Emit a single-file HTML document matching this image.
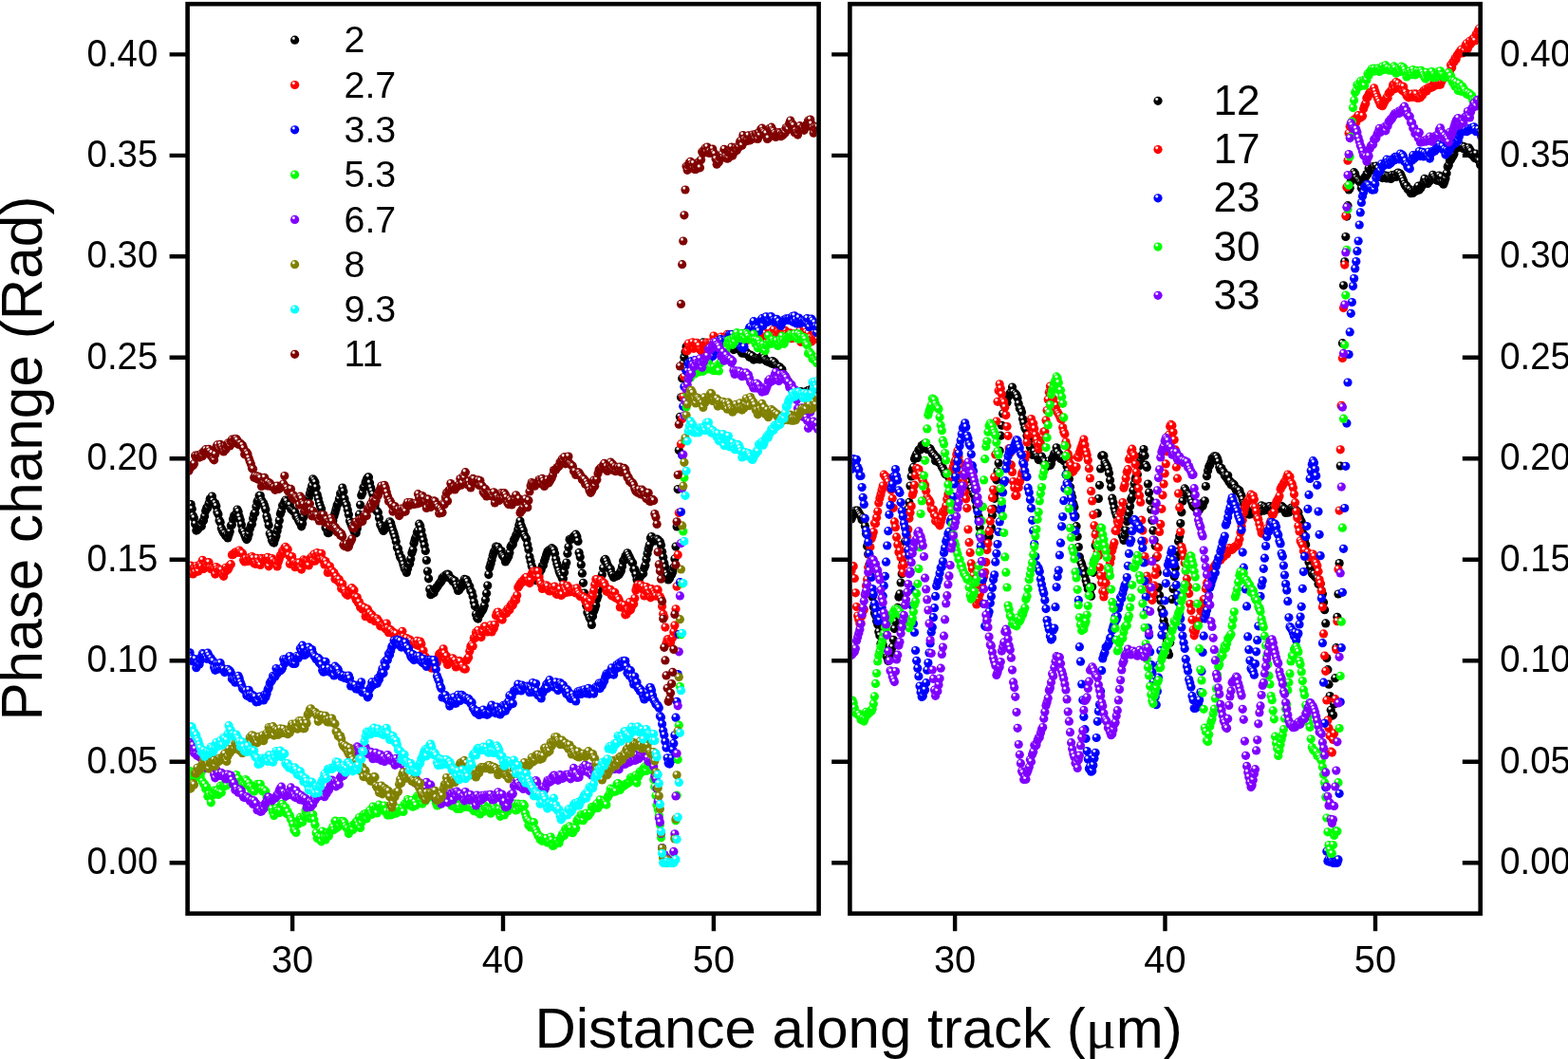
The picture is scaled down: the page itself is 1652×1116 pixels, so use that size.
<!DOCTYPE html>
<html><head><meta charset="utf-8"><title>Phase change vs distance</title>
<style>html,body{margin:0;padding:0;background:#fff;width:1652px;height:1116px;overflow:hidden;}svg{display:block;}text{font-family:"Liberation Sans",Arial,sans-serif;fill:#000;}</style></head><body>
<svg width="1652" height="1116" viewBox="0 0 1652 1116">
<defs>
<radialGradient id="gk" cx="0.36" cy="0.3" r="0.62"><stop offset="0" stop-color="#fff"/><stop offset="0.13" stop-color="#fff"/><stop offset="0.36" stop-color="#000000"/><stop offset="1" stop-color="#000000"/></radialGradient>
<marker id="mk" markerUnits="userSpaceOnUse" markerWidth="12" markerHeight="12" refX="0" refY="0" overflow="visible" orient="0"><circle r="4.6" fill="url(#gk)"/></marker>
<radialGradient id="gr" cx="0.36" cy="0.3" r="0.62"><stop offset="0" stop-color="#fff"/><stop offset="0.13" stop-color="#fff"/><stop offset="0.36" stop-color="#ff0000"/><stop offset="1" stop-color="#ff0000"/></radialGradient>
<marker id="mr" markerUnits="userSpaceOnUse" markerWidth="12" markerHeight="12" refX="0" refY="0" overflow="visible" orient="0"><circle r="4.6" fill="url(#gr)"/></marker>
<radialGradient id="gb" cx="0.36" cy="0.3" r="0.62"><stop offset="0" stop-color="#fff"/><stop offset="0.13" stop-color="#fff"/><stop offset="0.36" stop-color="#0000ff"/><stop offset="1" stop-color="#0000ff"/></radialGradient>
<marker id="mb" markerUnits="userSpaceOnUse" markerWidth="12" markerHeight="12" refX="0" refY="0" overflow="visible" orient="0"><circle r="4.6" fill="url(#gb)"/></marker>
<radialGradient id="gg" cx="0.36" cy="0.3" r="0.62"><stop offset="0" stop-color="#fff"/><stop offset="0.13" stop-color="#fff"/><stop offset="0.36" stop-color="#00ff00"/><stop offset="1" stop-color="#00ff00"/></radialGradient>
<marker id="mg" markerUnits="userSpaceOnUse" markerWidth="12" markerHeight="12" refX="0" refY="0" overflow="visible" orient="0"><circle r="4.6" fill="url(#gg)"/></marker>
<radialGradient id="gv" cx="0.36" cy="0.3" r="0.62"><stop offset="0" stop-color="#fff"/><stop offset="0.13" stop-color="#fff"/><stop offset="0.36" stop-color="#8000ff"/><stop offset="1" stop-color="#8000ff"/></radialGradient>
<marker id="mv" markerUnits="userSpaceOnUse" markerWidth="12" markerHeight="12" refX="0" refY="0" overflow="visible" orient="0"><circle r="4.6" fill="url(#gv)"/></marker>
<radialGradient id="go" cx="0.36" cy="0.3" r="0.62"><stop offset="0" stop-color="#fff"/><stop offset="0.13" stop-color="#fff"/><stop offset="0.36" stop-color="#808000"/><stop offset="1" stop-color="#808000"/></radialGradient>
<marker id="mo" markerUnits="userSpaceOnUse" markerWidth="12" markerHeight="12" refX="0" refY="0" overflow="visible" orient="0"><circle r="4.6" fill="url(#go)"/></marker>
<radialGradient id="gc" cx="0.36" cy="0.3" r="0.62"><stop offset="0" stop-color="#fff"/><stop offset="0.13" stop-color="#fff"/><stop offset="0.36" stop-color="#00ffff"/><stop offset="1" stop-color="#00ffff"/></radialGradient>
<marker id="mc" markerUnits="userSpaceOnUse" markerWidth="12" markerHeight="12" refX="0" refY="0" overflow="visible" orient="0"><circle r="4.6" fill="url(#gc)"/></marker>
<radialGradient id="gd" cx="0.36" cy="0.3" r="0.62"><stop offset="0" stop-color="#fff"/><stop offset="0.13" stop-color="#fff"/><stop offset="0.36" stop-color="#800000"/><stop offset="1" stop-color="#800000"/></radialGradient>
<marker id="md" markerUnits="userSpaceOnUse" markerWidth="12" markerHeight="12" refX="0" refY="0" overflow="visible" orient="0"><circle r="4.6" fill="url(#gd)"/></marker>
<clipPath id="cl"><rect x="200" y="6.5" width="660.5" height="954"/></clipPath>
<clipPath id="cr"><rect x="897.7" y="6.5" width="660" height="954"/></clipPath>
</defs>
<rect width="1652" height="1116" fill="#fff"/>
<g clip-path="url(#cl)" fill="none" stroke="none">
<path d="M199.0 538.9 200.1 534.5 201.2 531.5 202.3 536.4 203.4 543.6 204.5 545.9 205.6 552.2 206.8 559.1 207.9 558.4 209.0 556.9 210.1 555.5 211.2 554.2 212.3 554.4 213.4 549.8 214.5 548.4 215.6 544.0 216.7 538.3 217.8 535.0 218.9 535.0 220.1 530.6 221.2 525.8 222.3 525.3 223.4 523.0 224.5 528.0 225.6 530.4 226.7 530.5 227.8 533.4 228.9 539.8 230.0 542.1 231.1 548.6 232.2 550.6 233.3 556.7 234.5 559.5 235.6 561.6 236.7 562.3 237.8 564.8 238.9 563.8 240.0 567.0 241.1 563.4 242.2 560.3 243.3 554.0 244.4 553.1 245.5 547.0 246.6 543.4 247.8 543.6 248.9 541.4 250.0 537.0 251.1 539.2 252.2 544.5 253.3 548.1 254.4 552.9 255.5 558.9 256.6 560.5 257.7 563.4 258.8 566.5 259.9 568.6 261.0 566.8 262.2 562.7 263.3 557.3 264.4 553.7 265.5 552.3 266.6 546.2 267.7 541.8 268.8 540.5 269.9 534.1 271.0 528.7 272.1 527.0 273.2 522.3 274.3 522.3 275.5 526.9 276.6 529.0 277.7 530.6 278.8 533.5 279.9 536.9 281.0 544.1 282.1 547.9 283.2 553.6 284.3 562.3 285.4 564.9 286.5 569.2 287.6 571.3 288.7 572.1 289.9 568.0 291.0 564.8 292.1 559.6 293.2 554.8 294.3 548.5 295.4 541.6 296.5 538.5 297.6 532.8 298.7 532.9 299.8 528.8 300.9 527.1 302.0 528.4 303.2 531.9 304.3 532.8 305.4 532.3 306.5 536.3 307.6 537.3 308.7 538.3 309.8 539.3 310.9 539.9 312.0 544.3 313.1 544.5 314.2 547.6 315.3 549.7 316.4 551.5 317.6 554.8 318.7 551.7 319.8 545.0 320.9 539.4 322.0 535.5 323.1 533.1 324.2 528.4 325.3 524.6 326.4 520.1 327.5 516.1 328.6 512.1 329.7 504.8 330.9 506.4 332.0 508.5 333.1 513.7 334.2 521.2 335.3 525.6 336.4 529.9 337.5 533.4 338.6 536.3 339.7 541.8 340.8 546.7 341.9 548.7 343.0 555.9 344.1 557.4 345.3 561.6 346.4 561.6 347.5 558.1 348.6 556.4 349.7 552.2 350.8 548.7 351.9 543.9 353.0 540.5 354.1 536.4 355.2 532.3 356.3 530.6 357.4 525.7 358.6 520.1 359.7 520.7 360.8 514.1 361.9 518.0 363.0 525.4 364.1 530.2 365.2 532.6 366.3 537.2 367.4 542.3 368.5 548.9 369.6 551.4 370.7 554.6 371.8 556.8 373.0 559.8 374.1 558.7 375.2 561.8 376.3 556.9 377.4 551.7 378.5 542.2 379.6 532.1 380.7 521.9 381.8 519.6 382.9 513.7 384.0 513.4 385.1 508.6 386.3 505.5 387.4 503.2 388.5 502.9 389.6 509.0 390.7 513.9 391.8 517.7 392.9 521.0 394.0 527.8 395.1 532.0 396.2 537.8 397.3 538.8 398.4 540.1 399.5 546.0 400.7 552.7 401.8 554.7 402.9 557.6 404.0 559.4 405.1 557.8 406.2 556.4 407.3 553.9 408.4 553.2 409.5 552.0 410.6 549.8 411.7 551.3 412.8 555.3 414.0 559.3 415.1 562.5 416.2 566.3 417.3 570.7 418.4 577.0 419.5 578.3 420.6 583.2 421.7 587.2 422.8 587.8 423.9 590.9 425.0 594.9 426.1 598.8 427.2 600.4 428.4 603.5 429.5 599.5 430.6 594.7 431.7 594.1 432.8 588.9 433.9 582.8 435.0 579.5 436.1 572.5 437.2 568.6 438.3 565.7 439.4 560.9 440.5 559.2 441.7 552.2 442.8 554.2 443.9 559.1 445.0 564.9 446.1 569.7 447.2 574.7 448.3 580.5 449.4 590.5 450.5 602.0 451.6 609.8 452.7 620.9 453.8 626.7 454.9 625.7 456.1 623.6 457.2 624.8 458.3 620.6 459.4 620.3 460.5 618.5 461.6 617.0 462.7 615.3 463.8 613.8 464.9 612.8 466.0 608.9 467.1 609.6 468.2 607.2 469.4 607.9 470.5 605.5 471.6 605.1 472.7 605.8 473.8 608.9 474.9 609.4 476.0 610.3 477.1 612.7 478.2 611.5 479.3 612.3 480.4 616.5 481.5 619.0 482.6 622.5 483.8 621.8 484.9 616.2 486.0 618.7 487.1 615.9 488.2 613.2 489.3 610.4 490.4 611.2 491.5 611.0 492.6 613.2 493.7 617.0 494.8 618.0 495.9 622.4 497.1 624.1 498.2 628.4 499.3 634.4 500.4 638.8 501.5 647.4 502.6 651.0 503.7 652.1 504.8 647.2 505.9 647.3 507.0 644.2 508.1 643.6 509.2 641.4 510.3 638.3 511.5 632.0 512.6 625.3 513.7 617.0 514.8 605.6 515.9 597.9 517.0 594.2 518.1 590.1 519.2 585.5 520.3 581.7 521.4 579.9 522.5 576.0 523.6 576.4 524.8 576.7 525.9 579.7 527.0 580.7 528.1 580.6 529.2 585.0 530.3 586.4 531.4 588.0 532.5 592.0 533.6 590.2 534.7 588.3 535.8 586.3 536.9 582.4 538.0 576.4 539.2 574.3 540.3 573.7 541.4 569.1 542.5 567.2 543.6 564.6 544.7 562.2 545.8 557.9 546.9 553.3 548.0 549.0 549.1 553.7 550.2 556.8 551.3 559.3 552.5 564.1 553.6 566.3 554.7 567.9 555.8 574.1 556.9 579.0 558.0 586.7 559.1 591.4 560.2 596.5 561.3 599.0 562.4 602.5 563.5 604.6 564.6 611.7 565.7 610.2 566.9 607.0 568.0 604.7 569.1 601.2 570.2 600.4 571.3 596.6 572.4 595.7 573.5 591.2 574.6 588.0 575.7 584.4 576.8 581.6 577.9 580.2 579.0 579.9 580.2 580.1 581.3 577.7 582.4 578.6 583.5 579.8 584.6 583.2 585.7 589.6 586.8 593.9 587.9 597.4 589.0 601.7 590.1 604.4 591.2 606.4 592.3 609.6 593.4 609.7 594.6 603.2 595.7 596.8 596.8 593.0 597.9 583.3 599.0 576.6 600.1 568.6 601.2 568.1 602.3 568.2 603.4 567.4 604.5 565.3 605.6 564.6 606.7 563.2 607.9 565.8 609.0 570.4 610.1 582.4 611.2 586.9 612.3 595.1 613.4 604.2 614.5 614.3 615.6 625.1 616.7 628.3 617.8 638.3 618.9 645.4 620.0 647.4 621.1 651.1 622.3 653.1 623.4 658.5 624.5 649.6 625.6 644.3 626.7 641.4 627.8 637.9 628.9 631.4 630.0 628.0 631.1 621.0 632.2 614.8 633.3 611.7 634.4 605.4 635.6 598.8 636.7 590.4 637.8 589.4 638.9 591.8 640.0 594.9 641.1 597.6 642.2 599.6 643.3 599.7 644.4 603.9 645.5 606.1 646.6 608.6 647.7 607.7 648.8 606.7 650.0 607.0 651.1 606.1 652.2 605.6 653.3 603.4 654.4 601.5 655.5 597.1 656.6 591.1 657.7 590.5 658.8 586.6 659.9 585.0 661.0 582.8 662.1 585.0 663.3 587.5 664.4 589.7 665.5 592.0 666.6 593.3 667.7 600.1 668.8 600.1 669.9 605.6 671.0 610.7 672.1 613.1 673.2 610.5 674.3 608.1 675.4 606.3 676.5 603.3 677.7 604.5 678.8 598.6 679.9 595.7 681.0 589.6 682.1 583.5 683.2 578.5 684.3 574.3 685.4 567.1 686.5 565.5 687.6 568.5 688.7 568.8 689.8 570.1 691.0 568.7 692.1 568.2 693.2 568.8 694.3 570.6 695.4 570.9 696.5 574.6 697.6 581.6 698.7 587.2 699.8 593.2 700.9 597.8 702.0 604.2 703.1 606.9 704.2 610.9 705.4 609.8 706.5 607.0 707.6 605.6 708.7 602.8 709.8 597.9 710.9 588.9 712.0 576.1 713.1 555.0 714.2 515.6 715.3 474.6 716.4 439.3 717.5 418.8 718.7 398.7 719.8 383.2 720.9 376.6 722.0 370.9 723.1 365.3 724.2 365.2 725.3 365.3 726.4 365.5 727.5 365.9 728.6 364.7 729.7 362.7 730.8 365.0 731.9 363.0 733.1 362.9 734.2 363.0 735.3 362.0 736.4 363.2 737.5 364.1 738.6 365.2 739.7 364.4 740.8 360.9 741.9 363.8 743.0 364.0 744.1 364.8 745.2 364.1 746.4 366.0 747.5 364.7 748.6 364.4 749.7 363.7 750.8 360.8 751.9 362.9 753.0 362.9 754.1 362.4 755.2 364.3 756.3 364.0 757.4 362.1 758.5 361.4 759.6 360.6 760.8 361.3 761.9 361.1 763.0 362.9 764.1 360.9 765.2 362.9 766.3 361.3 767.4 362.5 768.5 363.8 769.6 364.1 770.7 365.1 771.8 366.3 772.9 368.6 774.1 365.6 775.2 367.6 776.3 364.9 777.4 366.4 778.5 367.7 779.6 367.8 780.7 370.4 781.8 372.2 782.9 370.6 784.0 372.1 785.1 372.1 786.2 370.9 787.3 373.4 788.5 373.4 789.6 376.2 790.7 374.0 791.8 377.1 792.9 375.4 794.0 379.1 795.1 378.2 796.2 378.1 797.3 378.1 798.4 377.8 799.5 378.3 800.6 378.8 801.8 376.5 802.9 375.5 804.0 374.2 805.1 377.3 806.2 379.4 807.3 380.0 808.4 380.9 809.5 381.3 810.6 381.5 811.7 382.1 812.8 382.9 813.9 380.6 815.0 383.7 816.2 382.2 817.3 384.8 818.4 385.4 819.5 386.7 820.6 386.6 821.7 387.1 822.8 389.2 823.9 389.3 825.0 395.8 826.1 394.9 827.2 397.0 828.3 399.6 829.5 401.7 830.6 401.9 831.7 405.2 832.8 407.4 833.9 407.8 835.0 411.7 836.1 411.8 837.2 413.8 838.3 414.0 839.4 414.2 840.5 414.3 841.6 413.0 842.7 414.4 843.9 412.7 845.0 413.6 846.1 414.3 847.2 413.9 848.3 413.1 849.4 414.6 850.5 412.1 851.6 411.7 852.7 411.1 853.8 413.0 854.9 411.6 856.0 409.2 857.2 412.2 858.3 412.9 859.4 411.2 860.5 407.1 861.6 407.1" marker-start="url(#mk)" marker-mid="url(#mk)" marker-end="url(#mk)"/>
<path d="M199.0 599.0 200.1 599.4 201.2 596.1 202.3 604.5 203.4 604.9 204.5 598.7 205.6 602.9 206.8 596.5 207.9 598.4 209.0 602.1 210.1 596.1 211.2 594.5 212.3 597.3 213.4 590.3 214.5 599.6 215.6 597.1 216.7 595.6 217.8 596.7 218.9 592.8 220.1 592.7 221.2 598.5 222.3 599.7 223.4 598.8 224.5 599.7 225.6 599.6 226.7 605.1 227.8 597.6 228.9 599.8 230.0 602.4 231.1 599.9 232.2 600.4 233.3 600.8 234.5 605.6 235.6 607.3 236.7 603.5 237.8 598.3 238.9 600.3 240.0 600.6 241.1 598.5 242.2 595.7 243.3 594.7 244.4 584.7 245.5 584.6 246.6 583.3 247.8 582.1 248.9 581.8 250.0 582.2 251.1 581.9 252.2 580.0 253.3 581.9 254.4 582.5 255.5 583.2 256.6 590.3 257.7 591.9 258.8 588.7 259.9 591.1 261.0 591.5 262.2 588.1 263.3 587.9 264.4 590.3 265.5 586.5 266.6 588.3 267.7 593.8 268.8 592.7 269.9 594.4 271.0 588.3 272.1 592.2 273.2 592.7 274.3 595.5 275.5 588.4 276.6 589.6 277.7 591.4 278.8 591.5 279.9 588.3 281.0 589.4 282.1 587.3 283.2 596.8 284.3 590.8 285.4 590.6 286.5 588.5 287.6 590.4 288.7 593.6 289.9 592.3 291.0 592.9 292.1 597.0 293.2 592.3 294.3 589.1 295.4 585.6 296.5 584.6 297.6 580.8 298.7 581.9 299.8 577.5 300.9 576.4 302.0 578.5 303.2 578.9 304.3 585.3 305.4 594.3 306.5 588.1 307.6 586.6 308.7 594.1 309.8 592.0 310.9 597.7 312.0 593.5 313.1 595.5 314.2 593.0 315.3 593.2 316.4 598.2 317.6 600.1 318.7 594.2 319.8 589.9 320.9 591.3 322.0 591.5 323.1 591.7 324.2 591.3 325.3 595.9 326.4 589.1 327.5 588.1 328.6 586.7 329.7 591.1 330.9 584.1 332.0 591.2 333.1 586.6 334.2 582.5 335.3 586.3 336.4 585.1 337.5 589.0 338.6 583.3 339.7 589.3 340.8 590.5 341.9 594.9 343.0 591.5 344.1 594.7 345.3 603.5 346.4 601.2 347.5 596.8 348.6 602.7 349.7 601.6 350.8 603.7 351.9 603.6 353.0 610.3 354.1 607.4 355.2 610.7 356.3 612.4 357.4 610.7 358.6 614.9 359.7 620.2 360.8 615.3 361.9 620.9 363.0 621.7 364.1 625.2 365.2 626.4 366.3 627.3 367.4 625.1 368.5 624.6 369.6 620.7 370.7 619.7 371.8 624.1 373.0 621.9 374.1 629.1 375.2 632.1 376.3 629.6 377.4 635.2 378.5 634.6 379.6 639.9 380.7 638.5 381.8 642.0 382.9 642.2 384.0 640.3 385.1 649.7 386.3 647.9 387.4 641.9 388.5 647.6 389.6 645.9 390.7 652.4 391.8 648.1 392.9 650.8 394.0 651.1 395.1 654.7 396.2 652.5 397.3 652.0 398.4 654.0 399.5 655.4 400.7 659.8 401.8 659.7 402.9 659.2 404.0 660.2 405.1 659.7 406.2 662.7 407.3 657.1 408.4 662.1 409.5 666.7 410.6 663.6 411.7 663.9 412.8 667.0 414.0 666.0 415.1 667.4 416.2 671.3 417.3 667.9 418.4 675.2 419.5 672.8 420.6 672.6 421.7 671.6 422.8 671.7 423.9 665.3 425.0 671.2 426.1 673.4 427.2 673.8 428.4 672.5 429.5 675.8 430.6 675.9 431.7 674.0 432.8 675.5 433.9 678.3 435.0 678.3 436.1 677.0 437.2 678.4 438.3 679.3 439.4 675.4 440.5 680.3 441.7 680.2 442.8 676.1 443.9 678.7 445.0 688.9 446.1 685.8 447.2 692.5 448.3 692.3 449.4 701.4 450.5 701.7 451.6 699.9 452.7 700.8 453.8 702.3 454.9 704.2 456.1 699.8 457.2 697.5 458.3 696.0 459.4 699.2 460.5 698.3 461.6 692.9 462.7 689.2 463.8 689.5 464.9 687.8 466.0 687.6 467.1 683.8 468.2 688.6 469.4 695.2 470.5 691.5 471.6 700.4 472.7 697.8 473.8 696.7 474.9 697.4 476.0 697.4 477.1 693.8 478.2 696.5 479.3 696.0 480.4 702.9 481.5 699.5 482.6 701.0 483.8 696.3 484.9 697.2 486.0 702.1 487.1 701.6 488.2 704.0 489.3 705.0 490.4 704.9 491.5 695.9 492.6 694.3 493.7 692.8 494.8 686.2 495.9 681.2 497.1 679.2 498.2 681.0 499.3 672.5 500.4 672.4 501.5 666.5 502.6 670.5 503.7 664.3 504.8 667.8 505.9 668.4 507.0 671.6 508.1 666.2 509.2 665.6 510.3 660.2 511.5 660.3 512.6 665.5 513.7 665.9 514.8 664.5 515.9 663.5 517.0 658.8 518.1 666.0 519.2 660.7 520.3 662.3 521.4 658.4 522.5 648.8 523.6 645.7 524.8 645.0 525.9 648.4 527.0 652.0 528.1 649.7 529.2 653.1 530.3 647.0 531.4 647.1 532.5 645.0 533.6 646.2 534.7 641.8 535.8 642.9 536.9 642.7 538.0 638.3 539.2 636.6 540.3 637.8 541.4 633.7 542.5 631.1 543.6 632.4 544.7 627.5 545.8 619.0 546.9 617.6 548.0 615.2 549.1 614.3 550.2 612.6 551.3 612.9 552.5 609.9 553.6 609.2 554.7 608.3 555.8 612.5 556.9 612.7 558.0 614.6 559.1 611.5 560.2 604.9 561.3 602.3 562.4 602.0 563.5 603.1 564.6 607.2 565.7 602.3 566.9 602.1 568.0 608.3 569.1 613.2 570.2 615.9 571.3 620.5 572.4 617.8 573.5 617.6 574.6 619.0 575.7 616.8 576.8 618.0 577.9 622.1 579.0 622.9 580.2 620.4 581.3 619.2 582.4 619.8 583.5 622.8 584.6 618.2 585.7 625.3 586.8 626.4 587.9 624.6 589.0 625.4 590.1 621.2 591.2 627.4 592.3 626.6 593.4 616.0 594.6 620.2 595.7 621.7 596.8 624.5 597.9 617.3 599.0 619.2 600.1 623.8 601.2 623.2 602.3 622.9 603.4 622.8 604.5 623.5 605.6 620.6 606.7 624.9 607.9 619.9 609.0 623.8 610.1 625.9 611.2 628.6 612.3 627.7 613.4 628.3 614.5 629.4 615.6 629.6 616.7 633.4 617.8 631.0 618.9 636.7 620.0 640.0 621.1 632.3 622.3 633.6 623.4 627.0 624.5 628.0 625.6 622.4 626.7 616.2 627.8 610.5 628.9 610.5 630.0 613.3 631.1 614.1 632.2 612.7 633.3 611.5 634.4 614.2 635.6 614.0 636.7 614.8 637.8 617.7 638.9 623.0 640.0 623.1 641.1 624.0 642.2 621.8 643.3 621.4 644.4 627.8 645.5 624.3 646.6 628.6 647.7 624.3 648.8 630.2 650.0 630.1 651.1 630.1 652.2 632.2 653.3 639.9 654.4 638.7 655.5 637.3 656.6 640.4 657.7 637.9 658.8 647.8 659.9 647.5 661.0 642.6 662.1 643.9 663.3 634.7 664.4 642.8 665.5 639.5 666.6 637.2 667.7 636.5 668.8 630.5 669.9 622.1 671.0 618.2 672.1 616.1 673.2 619.0 674.3 617.1 675.4 616.3 676.5 620.8 677.7 618.5 678.8 628.0 679.9 622.8 681.0 618.5 682.1 621.4 683.2 625.0 684.3 625.1 685.4 629.8 686.5 620.7 687.6 628.2 688.7 623.5 689.8 625.7 691.0 628.1 692.1 621.1 693.2 621.7 694.3 628.3 695.4 628.8 696.5 631.1 697.6 639.0 698.7 647.1 699.8 650.3 700.9 661.1 702.0 677.9 703.1 673.9 704.2 674.0 705.4 675.7 706.5 677.5 707.6 673.2 708.7 671.7 709.8 665.9 710.9 659.1 712.0 641.8 713.1 618.1 714.2 584.7 715.3 540.4 716.4 500.0 717.5 467.9 718.7 441.4 719.8 418.2 720.9 397.0 722.0 388.2 723.1 369.7 724.2 369.8 725.3 362.0 726.4 365.9 727.5 366.2 728.6 364.0 729.7 360.8 730.8 367.3 731.9 363.2 733.1 361.6 734.2 361.4 735.3 365.7 736.4 364.4 737.5 368.6 738.6 368.9 739.7 370.7 740.8 367.0 741.9 365.0 743.0 363.5 744.1 361.0 745.2 361.3 746.4 362.1 747.5 364.6 748.6 360.8 749.7 361.2 750.8 362.9 751.9 354.0 753.0 359.3 754.1 360.3 755.2 363.1 756.3 358.5 757.4 359.5 758.5 365.8 759.6 355.0 760.8 357.9 761.9 358.9 763.0 357.8 764.1 355.2 765.2 360.4 766.3 352.3 767.4 354.2 768.5 355.5 769.6 354.0 770.7 358.2 771.8 354.0 772.9 360.1 774.1 355.2 775.2 358.4 776.3 354.3 777.4 352.8 778.5 355.0 779.6 361.6 780.7 359.9 781.8 362.0 782.9 359.0 784.0 354.1 785.1 359.5 786.2 358.9 787.3 353.1 788.5 356.5 789.6 354.5 790.7 350.8 791.8 353.8 792.9 357.2 794.0 356.9 795.1 354.8 796.2 362.0 797.3 356.8 798.4 353.9 799.5 350.7 800.6 356.9 801.8 351.1 802.9 351.5 804.0 350.5 805.1 350.4 806.2 351.6 807.3 354.0 808.4 354.2 809.5 353.3 810.6 354.5 811.7 351.1 812.8 350.4 813.9 353.2 815.0 347.3 816.2 354.2 817.3 353.3 818.4 353.9 819.5 349.9 820.6 351.2 821.7 352.0 822.8 348.8 823.9 348.2 825.0 350.1 826.1 350.8 827.2 348.3 828.3 352.3 829.5 355.5 830.6 352.0 831.7 351.0 832.8 351.2 833.9 356.7 835.0 354.3 836.1 356.0 837.2 354.9 838.3 351.5 839.4 355.7 840.5 351.2 841.6 353.5 842.7 348.7 843.9 360.5 845.0 357.2 846.1 355.5 847.2 353.6 848.3 353.6 849.4 350.1 850.5 355.2 851.6 351.4 852.7 355.0 853.8 355.5 854.9 359.9 856.0 356.3 857.2 356.9 858.3 357.4 859.4 354.6 860.5 355.8 861.6 357.3" marker-start="url(#mr)" marker-mid="url(#mr)" marker-end="url(#mr)"/>
<path d="M199.0 692.7 200.1 687.8 201.2 692.4 202.3 694.2 203.4 696.9 204.5 695.8 205.6 694.5 206.8 703.7 207.9 699.3 209.0 700.3 210.1 700.0 211.2 695.7 212.3 692.1 213.4 688.7 214.5 689.4 215.6 692.5 216.7 692.2 217.8 694.3 218.9 688.2 220.1 691.0 221.2 694.2 222.3 693.8 223.4 696.2 224.5 696.8 225.6 703.2 226.7 706.3 227.8 699.4 228.9 705.3 230.0 699.3 231.1 704.2 232.2 698.7 233.3 705.2 234.5 704.3 235.6 705.2 236.7 708.6 237.8 707.3 238.9 706.3 240.0 705.3 241.1 708.1 242.2 706.9 243.3 708.9 244.4 715.6 245.5 715.9 246.6 716.4 247.8 719.2 248.9 714.7 250.0 718.1 251.1 712.3 252.2 715.0 253.3 719.1 254.4 721.7 255.5 725.4 256.6 726.3 257.7 727.3 258.8 728.0 259.9 732.8 261.0 733.6 262.2 727.3 263.3 732.1 264.4 735.7 265.5 732.1 266.6 733.9 267.7 733.5 268.8 734.5 269.9 739.8 271.0 738.9 272.1 739.5 273.2 734.3 274.3 734.2 275.5 736.9 276.6 736.1 277.7 737.9 278.8 732.2 279.9 734.7 281.0 731.3 282.1 726.8 283.2 724.7 284.3 720.0 285.4 717.9 286.5 716.9 287.6 712.3 288.7 713.4 289.9 712.9 291.0 704.6 292.1 709.6 293.2 706.1 294.3 706.5 295.4 706.7 296.5 705.8 297.6 703.8 298.7 694.8 299.8 698.9 300.9 695.1 302.0 696.5 303.2 696.8 304.3 692.8 305.4 691.6 306.5 695.6 307.6 698.3 308.7 699.4 309.8 694.7 310.9 699.5 312.0 694.1 313.1 691.3 314.2 693.8 315.3 691.2 316.4 683.2 317.6 686.5 318.7 680.2 319.8 683.6 320.9 690.5 322.0 689.5 323.1 688.4 324.2 687.3 325.3 682.2 326.4 685.7 327.5 687.3 328.6 684.6 329.7 688.7 330.9 690.9 332.0 692.2 333.1 694.8 334.2 694.5 335.3 693.4 336.4 698.6 337.5 695.8 338.6 700.7 339.7 706.5 340.8 708.2 341.9 704.5 343.0 697.3 344.1 707.4 345.3 705.7 346.4 704.2 347.5 707.6 348.6 708.7 349.7 706.0 350.8 706.4 351.9 712.0 353.0 702.2 354.1 707.3 355.2 704.4 356.3 705.8 357.4 709.6 358.6 711.0 359.7 713.2 360.8 712.1 361.9 712.1 363.0 714.6 364.1 713.3 365.2 712.4 366.3 715.6 367.4 712.1 368.5 715.1 369.6 722.9 370.7 721.0 371.8 721.9 373.0 723.4 374.1 722.1 375.2 726.0 376.3 725.2 377.4 726.2 378.5 724.7 379.6 723.1 380.7 718.8 381.8 729.7 382.9 729.2 384.0 729.2 385.1 729.2 386.3 732.1 387.4 734.8 388.5 732.8 389.6 726.0 390.7 723.9 391.8 718.9 392.9 722.3 394.0 720.7 395.1 720.8 396.2 718.4 397.3 720.2 398.4 714.5 399.5 715.9 400.7 712.0 401.8 708.9 402.9 704.8 404.0 709.4 405.1 697.7 406.2 702.4 407.3 695.4 408.4 695.4 409.5 689.1 410.6 690.1 411.7 685.7 412.8 681.5 414.0 680.5 415.1 675.1 416.2 677.1 417.3 675.8 418.4 674.1 419.5 674.6 420.6 679.6 421.7 675.5 422.8 682.1 423.9 681.6 425.0 679.8 426.1 681.4 427.2 677.2 428.4 681.4 429.5 684.9 430.6 683.5 431.7 688.1 432.8 691.4 433.9 693.3 435.0 689.5 436.1 695.6 437.2 693.3 438.3 694.0 439.4 691.8 440.5 695.1 441.7 691.7 442.8 695.2 443.9 696.6 445.0 698.3 446.1 694.3 447.2 699.8 448.3 698.6 449.4 702.5 450.5 697.1 451.6 695.7 452.7 696.4 453.8 695.3 454.9 696.6 456.1 696.0 457.2 695.7 458.3 699.5 459.4 705.3 460.5 712.5 461.6 715.4 462.7 718.0 463.8 723.1 464.9 725.6 466.0 735.0 467.1 734.4 468.2 734.8 469.4 732.7 470.5 736.7 471.6 736.5 472.7 739.3 473.8 744.1 474.9 739.5 476.0 735.8 477.1 739.8 478.2 734.9 479.3 741.1 480.4 741.2 481.5 738.1 482.6 732.3 483.8 735.2 484.9 738.5 486.0 732.3 487.1 732.8 488.2 734.3 489.3 735.5 490.4 735.3 491.5 737.2 492.6 737.9 493.7 736.4 494.8 738.4 495.9 741.2 497.1 740.2 498.2 745.9 499.3 747.3 500.4 749.7 501.5 751.2 502.6 749.3 503.7 749.7 504.8 753.5 505.9 751.9 507.0 752.2 508.1 750.2 509.2 748.1 510.3 752.4 511.5 751.5 512.6 753.1 513.7 753.1 514.8 751.8 515.9 750.9 517.0 745.8 518.1 743.1 519.2 747.2 520.3 746.0 521.4 746.4 522.5 751.7 523.6 745.0 524.8 750.2 525.9 749.5 527.0 752.9 528.1 748.3 529.2 750.5 530.3 743.4 531.4 744.3 532.5 749.2 533.6 741.9 534.7 745.6 535.8 739.1 536.9 732.9 538.0 742.3 539.2 733.9 540.3 741.5 541.4 728.6 542.5 727.6 543.6 728.1 544.7 725.8 545.8 721.1 546.9 726.3 548.0 727.4 549.1 728.0 550.2 722.0 551.3 723.8 552.5 724.2 553.6 725.6 554.7 723.8 555.8 723.2 556.9 724.1 558.0 729.7 559.1 723.8 560.2 726.4 561.3 719.5 562.4 729.4 563.5 725.8 564.6 720.6 565.7 728.4 566.9 732.7 568.0 733.1 569.1 732.7 570.2 735.9 571.3 730.5 572.4 729.1 573.5 726.3 574.6 725.6 575.7 721.2 576.8 725.6 577.9 719.1 579.0 716.7 580.2 719.8 581.3 722.5 582.4 722.1 583.5 724.1 584.6 719.5 585.7 718.8 586.8 723.9 587.9 727.6 589.0 722.1 590.1 719.5 591.2 721.3 592.3 723.0 593.4 722.0 594.6 727.0 595.7 725.9 596.8 731.3 597.9 726.9 599.0 729.4 600.1 734.0 601.2 736.2 602.3 736.2 603.4 732.0 604.5 734.9 605.6 736.8 606.7 739.0 607.9 731.7 609.0 728.8 610.1 731.4 611.2 728.1 612.3 731.4 613.4 727.9 614.5 729.3 615.6 726.8 616.7 728.9 617.8 730.8 618.9 727.1 620.0 725.3 621.1 731.3 622.3 728.6 623.4 729.9 624.5 727.8 625.6 731.1 626.7 725.0 627.8 724.2 628.9 724.9 630.0 724.9 631.1 720.1 632.2 725.6 633.3 719.9 634.4 722.3 635.6 719.2 636.7 717.5 637.8 713.2 638.9 710.2 640.0 711.6 641.1 709.9 642.2 709.9 643.3 707.3 644.4 703.9 645.5 708.7 646.6 711.1 647.7 706.3 648.8 702.9 650.0 700.6 651.1 703.5 652.2 698.9 653.3 703.1 654.4 698.1 655.5 696.8 656.6 699.6 657.7 696.3 658.8 696.5 659.9 702.3 661.0 709.2 662.1 706.0 663.3 712.2 664.4 706.7 665.5 713.2 666.6 716.6 667.7 721.2 668.8 713.0 669.9 718.9 671.0 719.1 672.1 725.0 673.2 724.9 674.3 728.4 675.4 727.2 676.5 729.5 677.7 733.8 678.8 736.9 679.9 732.6 681.0 731.3 682.1 729.3 683.2 734.3 684.3 724.9 685.4 724.5 686.5 727.5 687.6 733.0 688.7 737.2 689.8 739.0 691.0 741.9 692.1 742.7 693.2 743.7 694.3 745.9 695.4 754.7 696.5 756.1 697.6 762.9 698.7 770.0 699.8 774.7 700.9 781.6 702.0 788.1 703.1 798.8 704.2 804.3 705.4 805.1 706.5 802.2 707.6 799.2 708.7 790.3 709.8 783.4 710.9 774.8 712.0 756.2 713.1 739.3 714.2 710.5 715.3 668.6 716.4 613.7 717.5 539.5 718.7 479.8 719.8 428.3 720.9 407.6 722.0 388.5 723.1 391.1 724.2 391.2 725.3 382.9 726.4 384.4 727.5 381.1 728.6 380.9 729.7 385.4 730.8 385.0 731.9 379.5 733.1 383.3 734.2 387.9 735.3 385.5 736.4 385.0 737.5 384.2 738.6 382.3 739.7 385.0 740.8 381.1 741.9 380.2 743.0 383.8 744.1 384.4 745.2 382.0 746.4 380.2 747.5 374.9 748.6 372.6 749.7 374.6 750.8 375.4 751.9 369.3 753.0 369.8 754.1 369.5 755.2 364.3 756.3 369.6 757.4 364.6 758.5 358.0 759.6 357.7 760.8 359.0 761.9 363.0 763.0 362.0 764.1 358.0 765.2 358.7 766.3 359.7 767.4 358.6 768.5 352.5 769.6 353.1 770.7 353.8 771.8 352.3 772.9 359.2 774.1 355.6 775.2 356.3 776.3 356.7 777.4 360.0 778.5 361.0 779.6 362.3 780.7 365.6 781.8 361.2 782.9 367.3 784.0 365.5 785.1 353.7 786.2 350.5 787.3 350.1 788.5 349.9 789.6 345.3 790.7 344.6 791.8 352.9 792.9 345.9 794.0 338.7 795.1 345.5 796.2 345.6 797.3 346.8 798.4 346.3 799.5 348.9 800.6 339.0 801.8 337.6 802.9 335.7 804.0 343.3 805.1 337.5 806.2 334.4 807.3 333.8 808.4 339.5 809.5 337.4 810.6 338.1 811.7 333.8 812.8 333.9 813.9 338.0 815.0 337.3 816.2 339.5 817.3 337.1 818.4 336.4 819.5 338.9 820.6 339.0 821.7 342.2 822.8 343.5 823.9 339.9 825.0 338.8 826.1 337.1 827.2 337.2 828.3 335.9 829.5 336.4 830.6 337.4 831.7 335.6 832.8 337.8 833.9 335.8 835.0 333.4 836.1 339.4 837.2 332.9 838.3 337.1 839.4 340.9 840.5 338.7 841.6 335.0 842.7 340.8 843.9 340.5 845.0 338.1 846.1 339.7 847.2 338.1 848.3 338.4 849.4 340.2 850.5 335.6 851.6 342.0 852.7 344.7 853.8 338.5 854.9 336.1 856.0 338.0 857.2 343.2 858.3 340.1 859.4 344.1 860.5 350.6 861.6 344.3" marker-start="url(#mb)" marker-mid="url(#mb)" marker-end="url(#mb)"/>
<path d="M199.0 814.2 200.1 812.5 201.2 819.2 202.3 815.9 203.4 815.0 204.5 814.4 205.6 815.5 206.8 817.3 207.9 819.2 209.0 817.6 210.1 816.6 211.2 818.1 212.3 813.2 213.4 823.7 214.5 825.9 215.6 826.4 216.7 831.5 217.8 829.5 218.9 839.2 220.1 837.0 221.2 839.0 222.3 845.8 223.4 836.2 224.5 837.7 225.6 833.0 226.7 833.3 227.8 834.1 228.9 833.2 230.0 837.4 231.1 834.4 232.2 828.4 233.3 835.2 234.5 828.7 235.6 827.9 236.7 828.4 237.8 823.3 238.9 827.7 240.0 820.0 241.1 818.0 242.2 823.3 243.3 817.8 244.4 820.3 245.5 819.1 246.6 821.9 247.8 823.3 248.9 816.5 250.0 822.2 251.1 820.5 252.2 827.1 253.3 829.9 254.4 826.5 255.5 826.3 256.6 827.2 257.7 827.3 258.8 821.5 259.9 823.2 261.0 826.6 262.2 825.2 263.3 828.9 264.4 831.3 265.5 829.9 266.6 833.1 267.7 834.1 268.8 828.2 269.9 827.9 271.0 826.4 272.1 827.0 273.2 827.2 274.3 826.3 275.5 831.5 276.6 833.8 277.7 832.0 278.8 834.5 279.9 833.9 281.0 840.2 282.1 844.8 283.2 846.7 284.3 850.0 285.4 850.3 286.5 852.5 287.6 855.9 288.7 859.6 289.9 854.6 291.0 851.9 292.1 854.1 293.2 854.5 294.3 856.6 295.4 854.2 296.5 847.5 297.6 847.3 298.7 850.3 299.8 852.1 300.9 851.0 302.0 857.6 303.2 855.5 304.3 858.8 305.4 859.5 306.5 863.4 307.6 864.9 308.7 868.9 309.8 874.7 310.9 875.4 312.0 877.4 313.1 868.3 314.2 868.5 315.3 864.1 316.4 861.4 317.6 863.3 318.7 866.4 319.8 860.4 320.9 861.1 322.0 854.0 323.1 859.2 324.2 855.5 325.3 859.7 326.4 862.5 327.5 858.9 328.6 862.8 329.7 858.3 330.9 864.0 332.0 869.2 333.1 877.8 334.2 883.2 335.3 881.5 336.4 884.4 337.5 882.3 338.6 886.8 339.7 876.0 340.8 882.6 341.9 883.7 343.0 884.9 344.1 882.2 345.3 877.8 346.4 880.9 347.5 876.4 348.6 875.7 349.7 873.8 350.8 871.6 351.9 874.5 353.0 865.2 354.1 865.4 355.2 872.3 356.3 870.8 357.4 870.3 358.6 865.6 359.7 866.8 360.8 865.4 361.9 865.8 363.0 867.3 364.1 870.7 365.2 872.7 366.3 873.2 367.4 878.6 368.5 875.0 369.6 872.5 370.7 870.7 371.8 874.4 373.0 868.8 374.1 868.5 375.2 865.9 376.3 866.1 377.4 869.7 378.5 861.5 379.6 872.4 380.7 867.1 381.8 861.6 382.9 858.4 384.0 860.2 385.1 857.7 386.3 862.8 387.4 858.0 388.5 855.7 389.6 854.1 390.7 857.0 391.8 858.3 392.9 850.2 394.0 854.9 395.1 853.3 396.2 851.3 397.3 856.9 398.4 849.7 399.5 848.1 400.7 852.9 401.8 851.4 402.9 850.8 404.0 850.9 405.1 849.0 406.2 855.8 407.3 854.9 408.4 859.1 409.5 857.8 410.6 854.5 411.7 858.8 412.8 858.4 414.0 857.5 415.1 853.6 416.2 853.1 417.3 857.2 418.4 853.4 419.5 851.9 420.6 854.5 421.7 855.1 422.8 853.8 423.9 851.6 425.0 855.4 426.1 847.4 427.2 848.2 428.4 847.5 429.5 842.5 430.6 844.5 431.7 848.8 432.8 846.2 433.9 843.3 435.0 850.2 436.1 846.3 437.2 845.5 438.3 848.8 439.4 838.9 440.5 840.0 441.7 838.0 442.8 843.4 443.9 838.3 445.0 847.1 446.1 842.6 447.2 842.3 448.3 844.0 449.4 840.7 450.5 838.8 451.6 839.4 452.7 840.2 453.8 836.5 454.9 838.8 456.1 837.6 457.2 839.8 458.3 841.0 459.4 846.2 460.5 849.0 461.6 848.6 462.7 843.3 463.8 840.9 464.9 844.6 466.0 845.0 467.1 844.4 468.2 841.0 469.4 843.3 470.5 841.4 471.6 844.9 472.7 845.4 473.8 844.5 474.9 843.3 476.0 849.3 477.1 845.6 478.2 847.9 479.3 848.4 480.4 850.5 481.5 852.5 482.6 849.1 483.8 849.2 484.9 852.5 486.0 842.7 487.1 850.4 488.2 848.3 489.3 850.5 490.4 849.3 491.5 848.8 492.6 847.6 493.7 850.7 494.8 850.2 495.9 851.0 497.1 851.7 498.2 850.4 499.3 854.7 500.4 852.5 501.5 854.8 502.6 854.0 503.7 855.9 504.8 852.7 505.9 858.0 507.0 854.1 508.1 852.8 509.2 855.4 510.3 848.9 511.5 852.2 512.6 852.4 513.7 852.4 514.8 853.4 515.9 853.6 517.0 857.2 518.1 853.5 519.2 847.4 520.3 849.9 521.4 852.7 522.5 854.2 523.6 854.9 524.8 854.4 525.9 852.9 527.0 860.3 528.1 855.3 529.2 853.6 530.3 848.8 531.4 858.9 532.5 853.3 533.6 848.3 534.7 855.1 535.8 853.8 536.9 846.4 538.0 851.4 539.2 848.5 540.3 849.9 541.4 851.6 542.5 847.2 543.6 854.0 544.7 848.2 545.8 847.1 546.9 852.1 548.0 847.8 549.1 848.9 550.2 851.8 551.3 847.4 552.5 849.0 553.6 857.3 554.7 861.3 555.8 863.8 556.9 869.7 558.0 865.7 559.1 871.9 560.2 867.4 561.3 871.0 562.4 866.7 563.5 873.4 564.6 875.0 565.7 877.7 566.9 880.8 568.0 881.0 569.1 884.7 570.2 882.4 571.3 886.3 572.4 884.6 573.5 883.9 574.6 884.6 575.7 883.5 576.8 887.9 577.9 887.7 579.0 887.5 580.2 882.0 581.3 885.5 582.4 891.4 583.5 891.0 584.6 887.1 585.7 886.9 586.8 886.8 587.9 888.4 589.0 888.5 590.1 884.2 591.2 882.5 592.3 879.5 593.4 878.2 594.6 880.5 595.7 873.7 596.8 877.0 597.9 872.6 599.0 872.9 600.1 870.9 601.2 872.8 602.3 877.4 603.4 877.7 604.5 875.4 605.6 872.1 606.7 872.9 607.9 865.6 609.0 863.2 610.1 863.3 611.2 863.9 612.3 858.6 613.4 859.8 614.5 864.7 615.6 858.8 616.7 857.8 617.8 857.1 618.9 860.3 620.0 859.6 621.1 857.5 622.3 856.3 623.4 850.5 624.5 851.1 625.6 852.3 626.7 850.0 627.8 848.8 628.9 846.9 630.0 851.5 631.1 849.1 632.2 842.8 633.3 847.6 634.4 846.8 635.6 845.3 636.7 843.9 637.8 844.9 638.9 848.1 640.0 840.4 641.1 838.8 642.2 836.5 643.3 831.2 644.4 835.0 645.5 832.1 646.6 834.1 647.7 832.9 648.8 834.1 650.0 826.6 651.1 825.5 652.2 828.5 653.3 832.5 654.4 828.4 655.5 828.9 656.6 828.3 657.7 828.1 658.8 826.4 659.9 826.3 661.0 825.7 662.1 824.5 663.3 824.2 664.4 819.8 665.5 819.2 666.6 820.5 667.7 819.8 668.8 820.2 669.9 817.1 671.0 825.1 672.1 819.0 673.2 817.1 674.3 813.0 675.4 813.7 676.5 813.5 677.7 810.2 678.8 809.5 679.9 807.7 681.0 812.4 682.1 806.9 683.2 803.3 684.3 803.5 685.4 804.9 686.5 802.7 687.6 812.0 688.7 821.5 689.8 829.2 691.0 838.5 692.1 848.5 693.2 853.0 694.3 859.3 695.4 869.0 696.5 882.7 697.6 893.6 698.7 904.4 699.8 909.3 700.9 909.3 702.0 909.3 703.1 909.3 704.2 909.3 705.4 909.3 706.5 909.3 707.6 909.3 708.7 907.8 709.8 898.0 710.9 883.0 712.0 864.7 713.1 838.2 714.2 800.4 715.3 764.2 716.4 723.6 717.5 668.7 718.7 615.0 719.8 560.0 720.9 503.4 722.0 464.1 723.1 428.9 724.2 415.2 725.3 399.3 726.4 398.3 727.5 397.9 728.6 393.1 729.7 393.5 730.8 389.2 731.9 393.9 733.1 387.9 734.2 389.9 735.3 390.0 736.4 391.9 737.5 388.9 738.6 387.8 739.7 390.2 740.8 391.3 741.9 387.9 743.0 388.7 744.1 383.4 745.2 388.9 746.4 382.9 747.5 387.1 748.6 387.4 749.7 388.4 750.8 390.3 751.9 387.2 753.0 390.7 754.1 388.9 755.2 388.5 756.3 385.0 757.4 390.9 758.5 383.0 759.6 381.5 760.8 373.9 761.9 377.7 763.0 371.7 764.1 370.1 765.2 367.8 766.3 362.2 767.4 358.5 768.5 362.5 769.6 357.9 770.7 358.8 771.8 363.3 772.9 356.1 774.1 360.3 775.2 354.8 776.3 350.7 777.4 354.7 778.5 355.8 779.6 354.8 780.7 351.8 781.8 351.4 782.9 356.0 784.0 357.6 785.1 356.4 786.2 351.0 787.3 352.4 788.5 355.0 789.6 357.8 790.7 356.4 791.8 356.7 792.9 356.8 794.0 352.2 795.1 357.9 796.2 362.3 797.3 358.1 798.4 366.7 799.5 358.9 800.6 362.6 801.8 364.5 802.9 367.3 804.0 363.1 805.1 366.1 806.2 369.7 807.3 364.2 808.4 363.6 809.5 353.7 810.6 361.1 811.7 361.9 812.8 362.2 813.9 358.1 815.0 360.3 816.2 361.2 817.3 360.8 818.4 359.2 819.5 364.5 820.6 363.0 821.7 357.9 822.8 361.1 823.9 354.2 825.0 358.7 826.1 362.3 827.2 358.8 828.3 355.8 829.5 356.8 830.6 354.9 831.7 353.4 832.8 352.5 833.9 354.3 835.0 353.6 836.1 354.7 837.2 351.9 838.3 354.7 839.4 356.2 840.5 351.6 841.6 357.4 842.7 353.0 843.9 355.1 845.0 356.9 846.1 356.0 847.2 355.5 848.3 357.5 849.4 362.2 850.5 363.8 851.6 372.6 852.7 370.8 853.8 372.3 854.9 373.8 856.0 378.2 857.2 378.6 858.3 379.6 859.4 380.6 860.5 382.6 861.6 376.1" marker-start="url(#mg)" marker-mid="url(#mg)" marker-end="url(#mg)"/>
<path d="M199.0 783.6 200.1 782.1 201.2 787.5 202.3 788.1 203.4 785.4 204.5 793.6 205.6 789.4 206.8 795.3 207.9 796.6 209.0 795.8 210.1 796.0 211.2 798.6 212.3 795.9 213.4 801.1 214.5 804.4 215.6 805.1 216.7 802.1 217.8 809.6 218.9 806.5 220.1 801.6 221.2 804.6 222.3 801.8 223.4 805.0 224.5 808.9 225.6 816.0 226.7 819.8 227.8 810.9 228.9 815.3 230.0 815.2 231.1 817.4 232.2 816.7 233.3 814.4 234.5 817.4 235.6 816.2 236.7 817.1 237.8 821.0 238.9 819.3 240.0 816.1 241.1 819.0 242.2 817.0 243.3 817.4 244.4 822.0 245.5 826.4 246.6 825.2 247.8 832.5 248.9 830.3 250.0 833.4 251.1 835.2 252.2 833.3 253.3 832.2 254.4 833.8 255.5 837.8 256.6 840.0 257.7 840.4 258.8 839.6 259.9 839.6 261.0 841.0 262.2 841.4 263.3 843.9 264.4 844.3 265.5 843.3 266.6 847.4 267.7 843.9 268.8 846.9 269.9 846.9 271.0 853.7 272.1 853.3 273.2 853.0 274.3 855.3 275.5 855.0 276.6 849.4 277.7 852.6 278.8 847.7 279.9 846.5 281.0 844.3 282.1 840.2 283.2 840.0 284.3 842.9 285.4 842.7 286.5 843.7 287.6 842.1 288.7 841.4 289.9 841.0 291.0 839.8 292.1 837.2 293.2 837.9 294.3 833.0 295.4 830.8 296.5 829.2 297.6 834.8 298.7 834.9 299.8 837.7 300.9 839.3 302.0 836.2 303.2 837.3 304.3 835.2 305.4 834.4 306.5 829.9 307.6 838.0 308.7 837.0 309.8 837.3 310.9 840.2 312.0 833.2 313.1 840.9 314.2 836.4 315.3 840.7 316.4 843.0 317.6 838.4 318.7 842.0 319.8 840.3 320.9 844.3 322.0 841.5 323.1 851.0 324.2 848.2 325.3 846.9 326.4 844.9 327.5 850.3 328.6 845.4 329.7 847.8 330.9 840.9 332.0 843.0 333.1 835.1 334.2 839.9 335.3 835.5 336.4 834.5 337.5 838.5 338.6 837.4 339.7 834.2 340.8 834.4 341.9 839.7 343.0 833.5 344.1 836.2 345.3 833.6 346.4 832.8 347.5 829.5 348.6 826.5 349.7 822.1 350.8 825.5 351.9 826.2 353.0 823.7 354.1 828.8 355.2 823.0 356.3 823.3 357.4 826.7 358.6 819.1 359.7 818.2 360.8 814.2 361.9 817.4 363.0 814.8 364.1 814.4 365.2 807.5 366.3 810.3 367.4 806.0 368.5 804.2 369.6 798.3 370.7 792.3 371.8 795.7 373.0 792.8 374.1 789.1 375.2 791.9 376.3 786.9 377.4 787.5 378.5 789.6 379.6 790.9 380.7 792.2 381.8 793.8 382.9 791.9 384.0 789.5 385.1 787.6 386.3 790.3 387.4 792.2 388.5 794.9 389.6 792.7 390.7 792.4 391.8 793.1 392.9 799.7 394.0 796.6 395.1 794.5 396.2 793.4 397.3 799.4 398.4 796.1 399.5 796.7 400.7 795.1 401.8 801.4 402.9 799.0 404.0 798.0 405.1 802.6 406.2 799.8 407.3 800.8 408.4 795.6 409.5 798.7 410.6 798.2 411.7 801.5 412.8 801.0 414.0 801.8 415.1 800.5 416.2 806.3 417.3 799.3 418.4 803.6 419.5 802.2 420.6 804.5 421.7 799.1 422.8 804.7 423.9 801.6 425.0 806.5 426.1 807.8 427.2 817.2 428.4 810.6 429.5 814.3 430.6 812.8 431.7 816.1 432.8 818.7 433.9 817.7 435.0 816.2 436.1 817.1 437.2 819.2 438.3 821.0 439.4 826.3 440.5 825.0 441.7 825.4 442.8 825.2 443.9 827.7 445.0 829.5 446.1 826.3 447.2 830.7 448.3 830.4 449.4 824.3 450.5 835.5 451.6 834.1 452.7 828.7 453.8 827.2 454.9 833.3 456.1 833.6 457.2 838.7 458.3 837.9 459.4 842.3 460.5 837.6 461.6 840.9 462.7 843.3 463.8 843.3 464.9 847.2 466.0 844.9 467.1 843.5 468.2 842.4 469.4 836.6 470.5 839.5 471.6 845.6 472.7 838.4 473.8 836.0 474.9 837.0 476.0 836.9 477.1 843.2 478.2 835.1 479.3 835.7 480.4 839.3 481.5 834.2 482.6 835.9 483.8 836.8 484.9 836.9 486.0 839.6 487.1 840.0 488.2 838.9 489.3 843.8 490.4 834.5 491.5 842.4 492.6 838.8 493.7 842.9 494.8 841.1 495.9 837.5 497.1 843.0 498.2 843.2 499.3 840.9 500.4 840.2 501.5 848.9 502.6 838.0 503.7 844.0 504.8 840.4 505.9 840.0 507.0 843.3 508.1 838.4 509.2 841.0 510.3 838.0 511.5 839.8 512.6 838.1 513.7 838.8 514.8 837.8 515.9 838.6 517.0 837.3 518.1 841.8 519.2 843.1 520.3 839.6 521.4 841.8 522.5 837.7 523.6 838.4 524.8 834.8 525.9 837.5 527.0 840.8 528.1 840.4 529.2 837.2 530.3 845.2 531.4 844.6 532.5 850.7 533.6 850.5 534.7 849.4 535.8 843.6 536.9 842.0 538.0 837.4 539.2 837.2 540.3 836.5 541.4 828.0 542.5 828.0 543.6 827.7 544.7 822.4 545.8 825.5 546.9 828.4 548.0 828.8 549.1 829.6 550.2 830.0 551.3 831.4 552.5 827.8 553.6 830.0 554.7 830.1 555.8 826.9 556.9 829.9 558.0 833.6 559.1 833.2 560.2 834.3 561.3 831.7 562.4 829.8 563.5 830.5 564.6 822.6 565.7 824.6 566.9 831.2 568.0 833.8 569.1 834.9 570.2 834.7 571.3 833.3 572.4 829.5 573.5 832.8 574.6 830.6 575.7 826.1 576.8 822.5 577.9 823.3 579.0 824.3 580.2 821.1 581.3 822.8 582.4 818.2 583.5 817.1 584.6 817.4 585.7 819.3 586.8 820.4 587.9 822.3 589.0 819.4 590.1 816.4 591.2 817.5 592.3 820.4 593.4 819.1 594.6 819.3 595.7 816.7 596.8 816.6 597.9 816.4 599.0 816.3 600.1 818.1 601.2 820.8 602.3 815.0 603.4 814.4 604.5 809.4 605.6 816.2 606.7 814.9 607.9 819.4 609.0 817.4 610.1 819.1 611.2 811.4 612.3 813.4 613.4 812.3 614.5 808.6 615.6 812.6 616.7 806.1 617.8 810.6 618.9 809.7 620.0 814.2 621.1 808.1 622.3 815.5 623.4 817.0 624.5 808.8 625.6 812.7 626.7 808.2 627.8 813.3 628.9 814.3 630.0 808.6 631.1 816.7 632.2 813.7 633.3 815.1 634.4 816.9 635.6 816.2 636.7 812.6 637.8 813.2 638.9 813.3 640.0 809.7 641.1 813.4 642.2 812.0 643.3 809.7 644.4 810.5 645.5 808.1 646.6 805.2 647.7 810.6 648.8 808.8 650.0 806.9 651.1 804.9 652.2 810.8 653.3 804.4 654.4 801.1 655.5 804.7 656.6 805.4 657.7 800.4 658.8 805.3 659.9 797.9 661.0 801.1 662.1 803.3 663.3 803.1 664.4 800.7 665.5 801.2 666.6 796.8 667.7 799.4 668.8 801.5 669.9 795.7 671.0 800.2 672.1 799.8 673.2 799.4 674.3 797.1 675.4 796.9 676.5 796.4 677.7 792.3 678.8 792.8 679.9 794.3 681.0 792.9 682.1 798.7 683.2 802.6 684.3 802.9 685.4 800.7 686.5 803.0 687.6 801.0 688.7 807.9 689.8 818.1 691.0 821.1 692.1 830.9 693.2 844.6 694.3 861.9 695.4 866.6 696.5 878.6 697.6 893.5 698.7 901.8 699.8 900.6 700.9 903.0 702.0 903.5 703.1 909.3 704.2 905.8 705.4 907.0 706.5 908.5 707.6 909.3 708.7 909.3 709.8 897.4 710.9 878.8 712.0 839.0 713.1 794.0 714.2 743.8 715.3 686.8 716.4 627.9 717.5 572.6 718.7 514.8 719.8 479.1 720.9 437.9 722.0 422.9 723.1 410.4 724.2 405.5 725.3 399.2 726.4 395.2 727.5 391.3 728.6 393.8 729.7 384.5 730.8 386.3 731.9 386.1 733.1 379.7 734.2 382.6 735.3 383.9 736.4 381.2 737.5 377.9 738.6 383.9 739.7 387.3 740.8 382.2 741.9 380.3 743.0 376.5 744.1 376.0 745.2 375.1 746.4 367.9 747.5 366.9 748.6 368.5 749.7 367.1 750.8 364.8 751.9 361.1 753.0 362.2 754.1 360.4 755.2 363.2 756.3 363.5 757.4 364.8 758.5 367.6 759.6 375.6 760.8 374.3 761.9 371.0 763.0 380.2 764.1 377.0 765.2 374.4 766.3 379.3 767.4 377.3 768.5 378.6 769.6 378.5 770.7 382.3 771.8 380.4 772.9 390.6 774.1 394.5 775.2 390.9 776.3 391.7 777.4 392.5 778.5 391.0 779.6 391.8 780.7 395.3 781.8 396.7 782.9 393.0 784.0 395.3 785.1 394.3 786.2 392.9 787.3 396.7 788.5 395.1 789.6 398.8 790.7 402.8 791.8 403.8 792.9 406.1 794.0 408.9 795.1 404.6 796.2 409.0 797.3 404.0 798.4 407.1 799.5 405.9 800.6 409.9 801.8 410.7 802.9 413.1 804.0 411.0 805.1 410.6 806.2 412.2 807.3 409.4 808.4 406.5 809.5 401.5 810.6 399.9 811.7 402.5 812.8 401.8 813.9 401.1 815.0 398.9 816.2 395.1 817.3 392.2 818.4 399.2 819.5 399.4 820.6 401.6 821.7 394.5 822.8 399.3 823.9 398.7 825.0 394.4 826.1 395.5 827.2 396.4 828.3 398.1 829.5 401.7 830.6 402.6 831.7 407.9 832.8 406.6 833.9 405.3 835.0 409.1 836.1 410.6 837.2 410.5 838.3 420.1 839.4 421.5 840.5 430.2 841.6 430.8 842.7 436.3 843.9 435.3 845.0 429.8 846.1 439.3 847.2 436.5 848.3 440.0 849.4 440.1 850.5 443.3 851.6 451.3 852.7 444.4 853.8 434.6 854.9 448.4 856.0 445.5 857.2 444.2 858.3 448.1 859.4 448.2 860.5 446.2 861.6 452.3" marker-start="url(#mv)" marker-mid="url(#mv)" marker-end="url(#mv)"/>
<path d="M199.0 830.1 200.1 831.2 201.2 830.6 202.3 827.0 203.4 825.7 204.5 826.9 205.6 814.7 206.8 815.1 207.9 809.3 209.0 812.6 210.1 811.2 211.2 810.3 212.3 806.9 213.4 804.3 214.5 799.5 215.6 803.0 216.7 804.1 217.8 803.8 218.9 805.1 220.1 810.1 221.2 804.5 222.3 802.6 223.4 798.9 224.5 803.8 225.6 801.2 226.7 807.4 227.8 802.2 228.9 802.3 230.0 802.7 231.1 799.1 232.2 800.2 233.3 800.8 234.5 799.4 235.6 796.7 236.7 794.3 237.8 800.6 238.9 802.4 240.0 797.1 241.1 789.6 242.2 793.6 243.3 791.1 244.4 790.4 245.5 789.4 246.6 789.3 247.8 783.6 248.9 785.9 250.0 782.4 251.1 785.8 252.2 790.8 253.3 787.8 254.4 788.3 255.5 793.7 256.6 789.6 257.7 787.0 258.8 788.1 259.9 782.5 261.0 783.3 262.2 781.2 263.3 777.1 264.4 782.8 265.5 774.8 266.6 779.3 267.7 775.9 268.8 779.5 269.9 780.1 271.0 782.8 272.1 776.9 273.2 776.7 274.3 779.4 275.5 778.1 276.6 775.0 277.7 780.7 278.8 777.1 279.9 774.9 281.0 772.7 282.1 774.3 283.2 766.5 284.3 770.2 285.4 766.7 286.5 769.7 287.6 765.7 288.7 775.1 289.9 768.7 291.0 770.5 292.1 769.4 293.2 774.3 294.3 771.6 295.4 767.9 296.5 772.5 297.6 771.9 298.7 768.3 299.8 772.5 300.9 771.0 302.0 772.5 303.2 773.7 304.3 769.4 305.4 772.0 306.5 766.4 307.6 763.0 308.7 764.9 309.8 767.6 310.9 765.8 312.0 762.5 313.1 768.1 314.2 767.8 315.3 759.5 316.4 763.8 317.6 759.8 318.7 762.2 319.8 767.8 320.9 767.4 322.0 758.4 323.1 762.3 324.2 753.1 325.3 751.8 326.4 747.8 327.5 746.8 328.6 750.4 329.7 749.8 330.9 750.4 332.0 750.5 333.1 752.5 334.2 754.6 335.3 760.3 336.4 753.4 337.5 755.1 338.6 754.9 339.7 754.0 340.8 757.9 341.9 756.0 343.0 754.4 344.1 759.0 345.3 761.0 346.4 758.1 347.5 761.0 348.6 760.0 349.7 757.1 350.8 761.0 351.9 762.0 353.0 762.7 354.1 770.8 355.2 771.4 356.3 775.7 357.4 775.9 358.6 775.6 359.7 778.8 360.8 784.1 361.9 786.3 363.0 785.4 364.1 788.8 365.2 786.8 366.3 791.9 367.4 794.5 368.5 788.3 369.6 792.5 370.7 798.4 371.8 800.6 373.0 804.6 374.1 803.6 375.2 802.8 376.3 805.2 377.4 803.7 378.5 810.1 379.6 812.5 380.7 811.0 381.8 808.6 382.9 818.6 384.0 811.4 385.1 812.3 386.3 818.1 387.4 819.6 388.5 819.1 389.6 819.9 390.7 823.2 391.8 821.7 392.9 821.2 394.0 818.6 395.1 818.9 396.2 828.0 397.3 830.0 398.4 829.0 399.5 835.3 400.7 830.1 401.8 828.0 402.9 836.8 404.0 833.7 405.1 830.5 406.2 832.3 407.3 832.5 408.4 833.7 409.5 833.7 410.6 839.7 411.7 848.3 412.8 850.9 414.0 846.6 415.1 840.6 416.2 839.5 417.3 835.0 418.4 835.0 419.5 834.2 420.6 826.6 421.7 821.3 422.8 824.9 423.9 815.9 425.0 813.8 426.1 820.1 427.2 816.2 428.4 820.2 429.5 814.3 430.6 819.0 431.7 816.7 432.8 819.0 433.9 823.3 435.0 821.7 436.1 823.2 437.2 825.0 438.3 824.2 439.4 822.9 440.5 824.2 441.7 830.3 442.8 825.7 443.9 835.3 445.0 837.8 446.1 839.0 447.2 838.4 448.3 842.9 449.4 835.3 450.5 838.9 451.6 838.8 452.7 835.6 453.8 836.0 454.9 837.6 456.1 836.2 457.2 836.0 458.3 833.3 459.4 840.6 460.5 843.4 461.6 842.7 462.7 841.0 463.8 841.5 464.9 836.3 466.0 838.5 467.1 831.2 468.2 826.9 469.4 826.5 470.5 819.5 471.6 824.1 472.7 826.5 473.8 827.0 474.9 820.9 476.0 819.1 477.1 824.3 478.2 821.8 479.3 824.4 480.4 821.7 481.5 818.7 482.6 813.9 483.8 807.1 484.9 804.2 486.0 804.3 487.1 804.9 488.2 802.5 489.3 801.4 490.4 811.9 491.5 804.2 492.6 810.0 493.7 807.9 494.8 810.5 495.9 816.8 497.1 812.8 498.2 809.4 499.3 815.8 500.4 811.8 501.5 819.0 502.6 816.2 503.7 814.4 504.8 814.6 505.9 810.6 507.0 808.5 508.1 809.6 509.2 808.5 510.3 808.6 511.5 809.7 512.6 808.5 513.7 807.9 514.8 806.6 515.9 806.5 517.0 810.9 518.1 808.1 519.2 810.4 520.3 808.3 521.4 810.5 522.5 809.7 523.6 812.4 524.8 816.7 525.9 813.0 527.0 812.4 528.1 810.3 529.2 810.7 530.3 811.7 531.4 810.8 532.5 816.7 533.6 817.0 534.7 818.1 535.8 820.8 536.9 815.7 538.0 815.6 539.2 815.2 540.3 815.8 541.4 809.6 542.5 808.1 543.6 813.1 544.7 813.8 545.8 815.3 546.9 815.5 548.0 810.7 549.1 811.7 550.2 813.2 551.3 813.0 552.5 803.6 553.6 810.1 554.7 808.1 555.8 807.2 556.9 806.7 558.0 805.5 559.1 803.0 560.2 798.4 561.3 802.9 562.4 799.9 563.5 801.5 564.6 796.2 565.7 795.6 566.9 795.2 568.0 798.4 569.1 800.3 570.2 796.4 571.3 799.3 572.4 796.7 573.5 788.4 574.6 788.2 575.7 791.5 576.8 793.1 577.9 787.7 579.0 791.4 580.2 782.6 581.3 786.1 582.4 781.6 583.5 781.9 584.6 776.8 585.7 781.7 586.8 776.9 587.9 780.1 589.0 781.7 590.1 784.6 591.2 781.9 592.3 780.2 593.4 784.7 594.6 783.5 595.7 783.1 596.8 786.0 597.9 785.6 599.0 789.3 600.1 785.1 601.2 790.3 602.3 795.0 603.4 789.3 604.5 792.3 605.6 793.9 606.7 795.9 607.9 796.9 609.0 792.1 610.1 798.0 611.2 796.0 612.3 796.1 613.4 795.9 614.5 794.3 615.6 796.7 616.7 797.6 617.8 796.0 618.9 793.2 620.0 791.7 621.1 795.7 622.3 795.4 623.4 795.1 624.5 794.5 625.6 798.1 626.7 799.4 627.8 805.1 628.9 810.6 630.0 805.0 631.1 812.7 632.2 811.9 633.3 818.5 634.4 821.9 635.6 811.7 636.7 810.8 637.8 808.6 638.9 816.9 640.0 816.4 641.1 812.3 642.2 811.8 643.3 810.4 644.4 808.9 645.5 801.6 646.6 805.9 647.7 802.9 648.8 807.0 650.0 802.4 651.1 799.4 652.2 803.3 653.3 797.4 654.4 798.1 655.5 800.8 656.6 797.4 657.7 794.5 658.8 796.2 659.9 790.2 661.0 789.2 662.1 793.5 663.3 785.5 664.4 793.7 665.5 789.5 666.6 786.3 667.7 782.6 668.8 784.4 669.9 786.5 671.0 784.6 672.1 785.7 673.2 784.5 674.3 781.2 675.4 785.3 676.5 788.9 677.7 786.4 678.8 782.9 679.9 783.6 681.0 781.5 682.1 785.1 683.2 779.1 684.3 791.7 685.4 794.0 686.5 795.1 687.6 795.6 688.7 792.6 689.8 802.0 691.0 813.8 692.1 815.5 693.2 830.4 694.3 838.8 695.4 852.5 696.5 877.7 697.6 893.9 698.7 903.5 699.8 909.3 700.9 909.3 702.0 909.3 703.1 905.9 704.2 909.3 705.4 909.3 706.5 909.3 707.6 909.3 708.7 909.3 709.8 908.4 710.9 884.0 712.0 863.1 713.1 816.8 714.2 770.2 715.3 713.6 716.4 652.7 717.5 600.0 718.7 553.9 719.8 512.2 720.9 487.3 722.0 461.5 723.1 437.8 724.2 426.1 725.3 417.6 726.4 415.5 727.5 411.2 728.6 411.7 729.7 414.2 730.8 420.7 731.9 421.2 733.1 425.0 734.2 419.2 735.3 419.3 736.4 421.0 737.5 422.4 738.6 424.8 739.7 424.6 740.8 429.4 741.9 418.9 743.0 424.3 744.1 422.1 745.2 421.3 746.4 419.3 747.5 418.3 748.6 414.4 749.7 414.9 750.8 422.4 751.9 422.5 753.0 423.1 754.1 422.0 755.2 420.2 756.3 428.1 757.4 422.4 758.5 425.7 759.6 425.4 760.8 423.7 761.9 423.3 763.0 428.0 764.1 424.4 765.2 427.6 766.3 431.2 767.4 424.2 768.5 426.1 769.6 429.8 770.7 431.8 771.8 434.2 772.9 432.3 774.1 430.5 775.2 426.3 776.3 431.0 777.4 429.3 778.5 429.8 779.6 424.8 780.7 429.7 781.8 432.1 782.9 429.3 784.0 430.0 785.1 426.0 786.2 420.0 787.3 427.2 788.5 421.8 789.6 427.6 790.7 418.6 791.8 421.0 792.9 426.6 794.0 423.9 795.1 426.8 796.2 431.9 797.3 432.3 798.4 436.8 799.5 433.6 800.6 430.9 801.8 433.2 802.9 425.4 804.0 431.4 805.1 429.5 806.2 436.3 807.3 435.8 808.4 432.1 809.5 439.7 810.6 436.6 811.7 433.2 812.8 431.7 813.9 433.3 815.0 433.4 816.2 435.8 817.3 435.6 818.4 438.1 819.5 436.9 820.6 444.3 821.7 443.7 822.8 444.8 823.9 439.8 825.0 441.8 826.1 442.6 827.2 440.5 828.3 441.7 829.5 441.6 830.6 442.7 831.7 440.7 832.8 437.1 833.9 443.2 835.0 441.0 836.1 443.2 837.2 441.1 838.3 442.7 839.4 440.2 840.5 435.1 841.6 437.2 842.7 435.7 843.9 433.5 845.0 430.6 846.1 431.9 847.2 431.0 848.3 431.3 849.4 431.3 850.5 421.5 851.6 425.8 852.7 426.4 853.8 431.4 854.9 430.8 856.0 428.4 857.2 429.7 858.3 426.7 859.4 426.4 860.5 419.5 861.6 417.7" marker-start="url(#mo)" marker-mid="url(#mo)" marker-end="url(#mo)"/>
<path d="M199.0 768.7 200.1 767.6 201.2 765.6 202.3 766.3 203.4 772.8 204.5 771.6 205.6 775.5 206.8 774.7 207.9 779.0 209.0 781.1 210.1 784.7 211.2 788.4 212.3 792.8 213.4 793.5 214.5 790.7 215.6 797.3 216.7 793.0 217.8 791.9 218.9 792.8 220.1 794.2 221.2 792.1 222.3 787.1 223.4 788.6 224.5 792.4 225.6 790.0 226.7 788.5 227.8 782.5 228.9 786.0 230.0 786.5 231.1 782.9 232.2 780.6 233.3 785.3 234.5 785.0 235.6 777.6 236.7 778.7 237.8 781.7 238.9 780.1 240.0 773.3 241.1 764.7 242.2 769.1 243.3 769.4 244.4 775.2 245.5 773.7 246.6 775.7 247.8 775.4 248.9 774.1 250.0 777.0 251.1 778.4 252.2 781.4 253.3 787.0 254.4 786.4 255.5 781.9 256.6 787.2 257.7 791.8 258.8 790.9 259.9 792.4 261.0 786.1 262.2 790.7 263.3 790.2 264.4 790.3 265.5 792.7 266.6 790.5 267.7 791.3 268.8 797.4 269.9 798.1 271.0 799.0 272.1 805.4 273.2 802.1 274.3 804.7 275.5 800.1 276.6 799.1 277.7 800.4 278.8 799.5 279.9 799.0 281.0 798.6 282.1 802.4 283.2 795.9 284.3 795.8 285.4 800.8 286.5 802.4 287.6 803.2 288.7 795.4 289.9 798.6 291.0 791.6 292.1 795.3 293.2 792.6 294.3 793.8 295.4 791.2 296.5 797.6 297.6 796.1 298.7 795.1 299.8 794.2 300.9 804.6 302.0 805.9 303.2 804.5 304.3 808.9 305.4 807.9 306.5 808.6 307.6 809.9 308.7 811.1 309.8 810.7 310.9 808.9 312.0 811.1 313.1 816.0 314.2 814.4 315.3 817.3 316.4 812.9 317.6 817.7 318.7 818.3 319.8 823.8 320.9 820.1 322.0 820.4 323.1 823.3 324.2 827.4 325.3 832.7 326.4 824.2 327.5 833.1 328.6 824.1 329.7 833.3 330.9 835.0 332.0 836.2 333.1 829.0 334.2 830.7 335.3 835.5 336.4 829.4 337.5 828.5 338.6 824.0 339.7 822.5 340.8 820.4 341.9 815.7 343.0 818.1 344.1 820.3 345.3 810.7 346.4 810.5 347.5 810.2 348.6 809.7 349.7 810.5 350.8 809.6 351.9 808.6 353.0 807.5 354.1 802.9 355.2 805.2 356.3 803.4 357.4 806.8 358.6 809.5 359.7 808.6 360.8 811.1 361.9 806.9 363.0 808.9 364.1 814.1 365.2 809.7 366.3 803.5 367.4 803.8 368.5 806.1 369.6 809.0 370.7 808.0 371.8 812.8 373.0 810.3 374.1 809.9 375.2 807.8 376.3 811.2 377.4 806.6 378.5 799.3 379.6 799.6 380.7 800.0 381.8 791.3 382.9 791.9 384.0 781.3 385.1 775.9 386.3 771.2 387.4 772.3 388.5 772.6 389.6 773.6 390.7 773.8 391.8 769.2 392.9 771.6 394.0 767.2 395.1 771.2 396.2 772.3 397.3 770.2 398.4 768.2 399.5 771.9 400.7 772.7 401.8 773.2 402.9 771.4 404.0 774.4 405.1 769.2 406.2 772.0 407.3 767.4 408.4 772.5 409.5 773.5 410.6 779.5 411.7 778.1 412.8 779.1 414.0 775.6 415.1 779.2 416.2 782.2 417.3 780.5 418.4 784.8 419.5 790.1 420.6 790.8 421.7 791.5 422.8 800.5 423.9 797.7 425.0 797.2 426.1 795.2 427.2 802.9 428.4 802.4 429.5 804.1 430.6 805.2 431.7 811.6 432.8 804.4 433.9 807.4 435.0 812.8 436.1 812.5 437.2 813.8 438.3 812.5 439.4 813.6 440.5 807.7 441.7 805.5 442.8 804.1 443.9 799.6 445.0 797.9 446.1 794.5 447.2 791.5 448.3 789.5 449.4 796.8 450.5 789.1 451.6 791.2 452.7 785.6 453.8 784.1 454.9 787.4 456.1 793.2 457.2 795.7 458.3 793.7 459.4 796.1 460.5 803.4 461.6 806.6 462.7 800.0 463.8 799.8 464.9 806.2 466.0 800.7 467.1 805.2 468.2 801.2 469.4 804.5 470.5 800.5 471.6 805.7 472.7 802.8 473.8 803.0 474.9 805.5 476.0 810.9 477.1 809.7 478.2 810.7 479.3 814.5 480.4 812.3 481.5 817.9 482.6 812.5 483.8 821.8 484.9 817.8 486.0 817.2 487.1 811.2 488.2 818.0 489.3 818.3 490.4 820.7 491.5 814.2 492.6 818.3 493.7 809.9 494.8 807.4 495.9 801.5 497.1 806.3 498.2 795.7 499.3 794.6 500.4 793.6 501.5 796.0 502.6 789.7 503.7 788.3 504.8 788.7 505.9 789.3 507.0 790.7 508.1 789.7 509.2 787.2 510.3 790.1 511.5 790.1 512.6 787.7 513.7 792.2 514.8 793.3 515.9 783.6 517.0 791.2 518.1 791.1 519.2 793.3 520.3 791.4 521.4 793.4 522.5 791.5 523.6 785.9 524.8 788.2 525.9 790.8 527.0 796.8 528.1 796.5 529.2 797.3 530.3 803.1 531.4 807.2 532.5 804.1 533.6 802.2 534.7 801.5 535.8 802.6 536.9 802.5 538.0 802.7 539.2 804.8 540.3 805.0 541.4 801.0 542.5 809.3 543.6 815.1 544.7 806.3 545.8 806.4 546.9 814.0 548.0 815.9 549.1 813.7 550.2 820.2 551.3 820.9 552.5 819.5 553.6 824.9 554.7 815.2 555.8 825.2 556.9 821.5 558.0 824.4 559.1 827.3 560.2 828.4 561.3 830.9 562.4 838.8 563.5 835.6 564.6 835.0 565.7 836.5 566.9 839.4 568.0 837.2 569.1 847.2 570.2 839.5 571.3 845.9 572.4 837.4 573.5 840.0 574.6 842.6 575.7 848.7 576.8 852.1 577.9 848.0 579.0 846.6 580.2 848.2 581.3 847.7 582.4 847.5 583.5 841.2 584.6 851.2 585.7 848.6 586.8 851.8 587.9 854.5 589.0 853.0 590.1 860.1 591.2 863.8 592.3 861.7 593.4 857.8 594.6 857.6 595.7 858.8 596.8 858.0 597.9 859.0 599.0 852.7 600.1 854.0 601.2 855.8 602.3 854.5 603.4 852.0 604.5 847.8 605.6 846.7 606.7 846.5 607.9 848.9 609.0 845.4 610.1 849.0 611.2 846.3 612.3 843.8 613.4 842.7 614.5 840.5 615.6 837.9 616.7 836.8 617.8 841.1 618.9 834.4 620.0 836.6 621.1 829.5 622.3 830.2 623.4 830.5 624.5 830.7 625.6 826.0 626.7 819.7 627.8 816.0 628.9 815.0 630.0 817.3 631.1 810.4 632.2 813.3 633.3 809.1 634.4 803.7 635.6 805.5 636.7 807.1 637.8 802.0 638.9 802.6 640.0 799.8 641.1 789.1 642.2 786.8 643.3 788.7 644.4 786.0 645.5 790.1 646.6 787.2 647.7 783.5 648.8 784.2 650.0 783.1 651.1 775.6 652.2 777.1 653.3 777.2 654.4 781.3 655.5 775.8 656.6 778.8 657.7 770.8 658.8 770.8 659.9 775.9 661.0 773.6 662.1 778.2 663.3 775.2 664.4 768.5 665.5 766.2 666.6 771.3 667.7 769.6 668.8 770.0 669.9 766.5 671.0 770.6 672.1 765.9 673.2 770.8 674.3 771.9 675.4 769.1 676.5 769.1 677.7 779.1 678.8 771.1 679.9 771.2 681.0 768.5 682.1 773.2 683.2 772.9 684.3 773.8 685.4 776.3 686.5 774.5 687.6 780.3 688.7 773.5 689.8 780.6 691.0 793.9 692.1 797.8 693.2 816.2 694.3 825.6 695.4 847.4 696.5 876.2 697.6 899.3 698.7 909.3 699.8 909.3 700.9 909.3 702.0 908.6 703.1 908.2 704.2 909.3 705.4 909.3 706.5 909.3 707.6 909.3 708.7 909.3 709.8 909.3 710.9 907.0 712.0 905.7 713.1 884.6 714.2 861.2 715.3 824.6 716.4 772.3 717.5 727.7 718.7 667.3 719.8 614.6 720.9 570.4 722.0 522.3 723.1 496.3 724.2 464.8 725.3 454.2 726.4 449.0 727.5 443.9 728.6 453.4 729.7 447.2 730.8 455.7 731.9 455.7 733.1 455.9 734.2 454.6 735.3 454.7 736.4 455.8 737.5 450.8 738.6 451.5 739.7 452.8 740.8 450.7 741.9 450.9 743.0 453.6 744.1 445.7 745.2 448.8 746.4 445.0 747.5 450.9 748.6 455.1 749.7 456.2 750.8 453.6 751.9 456.5 753.0 455.7 754.1 457.4 755.2 460.4 756.3 457.1 757.4 464.6 758.5 462.4 759.6 465.1 760.8 460.4 761.9 457.5 763.0 469.6 764.1 463.5 765.2 461.8 766.3 460.4 767.4 459.6 768.5 470.8 769.6 468.6 770.7 468.5 771.8 466.7 772.9 470.7 774.1 473.7 775.2 469.4 776.3 471.4 777.4 468.4 778.5 469.5 779.6 472.5 780.7 475.8 781.8 481.9 782.9 477.6 784.0 476.9 785.1 476.6 786.2 480.4 787.3 478.5 788.5 477.5 789.6 478.8 790.7 481.2 791.8 483.7 792.9 484.5 794.0 482.0 795.1 478.6 796.2 478.5 797.3 475.1 798.4 475.8 799.5 468.3 800.6 469.0 801.8 466.8 802.9 465.6 804.0 469.2 805.1 466.7 806.2 463.1 807.3 461.6 808.4 458.9 809.5 461.1 810.6 457.5 811.7 455.7 812.8 452.0 813.9 453.0 815.0 453.6 816.2 448.2 817.3 448.5 818.4 449.5 819.5 446.9 820.6 446.1 821.7 447.5 822.8 442.2 823.9 440.2 825.0 441.3 826.1 440.9 827.2 435.3 828.3 428.5 829.5 428.0 830.6 423.6 831.7 420.7 832.8 420.3 833.9 419.2 835.0 414.4 836.1 416.7 837.2 417.9 838.3 413.7 839.4 415.1 840.5 413.2 841.6 413.2 842.7 415.6 843.9 416.6 845.0 415.4 846.1 419.3 847.2 414.3 848.3 419.1 849.4 415.4 850.5 414.8 851.6 418.9 852.7 416.4 853.8 415.8 854.9 414.6 856.0 402.8 857.2 409.2 858.3 402.4 859.4 406.2 860.5 409.0 861.6 401.4" marker-start="url(#mc)" marker-mid="url(#mc)" marker-end="url(#mc)"/>
<path d="M199.0 496.3 200.1 491.3 201.2 492.3 202.3 490.0 203.4 490.5 204.5 488.7 205.6 480.2 206.8 482.0 207.9 479.9 209.0 480.4 210.1 482.1 211.2 480.4 212.3 478.0 213.4 480.7 214.5 476.1 215.6 475.2 216.7 473.7 217.8 477.0 218.9 475.3 220.1 473.4 221.2 475.8 222.3 480.4 223.4 477.5 224.5 483.6 225.6 484.8 226.7 478.9 227.8 471.6 228.9 468.9 230.0 472.5 231.1 473.9 232.2 468.4 233.3 471.2 234.5 473.1 235.6 475.9 236.7 470.1 237.8 473.8 238.9 469.6 240.0 467.2 241.1 468.3 242.2 470.0 243.3 465.3 244.4 463.2 245.5 467.0 246.6 463.2 247.8 462.7 248.9 462.5 250.0 464.0 251.1 468.3 252.2 467.1 253.3 467.2 254.4 469.6 255.5 469.3 256.6 472.5 257.7 478.8 258.8 476.7 259.9 476.7 261.0 478.7 262.2 482.9 263.3 486.2 264.4 488.9 265.5 493.5 266.6 494.3 267.7 503.2 268.8 501.5 269.9 504.1 271.0 501.9 272.1 505.2 273.2 502.5 274.3 503.8 275.5 512.5 276.6 511.3 277.7 508.2 278.8 503.4 279.9 510.5 281.0 511.8 282.1 508.0 283.2 512.1 284.3 509.2 285.4 510.9 286.5 512.0 287.6 513.4 288.7 513.5 289.9 516.3 291.0 514.0 292.1 512.1 293.2 515.5 294.3 514.9 295.4 513.8 296.5 512.6 297.6 510.9 298.7 509.9 299.8 501.5 300.9 513.4 302.0 514.0 303.2 516.9 304.3 518.5 305.4 518.1 306.5 515.4 307.6 522.9 308.7 521.5 309.8 526.2 310.9 523.6 312.0 524.5 313.1 526.4 314.2 527.2 315.3 532.1 316.4 523.2 317.6 525.6 318.7 530.1 319.8 531.6 320.9 538.6 322.0 534.6 323.1 532.3 324.2 530.9 325.3 533.4 326.4 531.1 327.5 537.6 328.6 543.8 329.7 538.3 330.9 543.2 332.0 544.2 333.1 542.8 334.2 543.2 335.3 546.0 336.4 549.0 337.5 544.2 338.6 542.8 339.7 543.6 340.8 542.5 341.9 550.4 343.0 547.6 344.1 547.4 345.3 550.1 346.4 549.4 347.5 553.9 348.6 546.0 349.7 549.6 350.8 555.4 351.9 555.7 353.0 555.4 354.1 556.9 355.2 560.7 356.3 559.8 357.4 560.7 358.6 564.1 359.7 562.4 360.8 565.6 361.9 574.2 363.0 575.6 364.1 575.0 365.2 573.5 366.3 576.8 367.4 576.1 368.5 572.6 369.6 570.3 370.7 567.9 371.8 556.2 373.0 556.8 374.1 550.7 375.2 550.2 376.3 552.3 377.4 552.3 378.5 547.6 379.6 549.6 380.7 546.8 381.8 549.5 382.9 545.7 384.0 542.4 385.1 543.5 386.3 543.4 387.4 536.3 388.5 534.9 389.6 536.2 390.7 531.0 391.8 534.0 392.9 527.0 394.0 530.7 395.1 527.4 396.2 527.5 397.3 521.9 398.4 522.1 399.5 517.9 400.7 514.9 401.8 512.0 402.9 516.4 404.0 514.8 405.1 511.3 406.2 514.2 407.3 518.8 408.4 522.8 409.5 528.3 410.6 527.2 411.7 529.3 412.8 531.9 414.0 539.1 415.1 534.1 416.2 533.7 417.3 537.0 418.4 537.2 419.5 537.0 420.6 543.6 421.7 540.5 422.8 536.0 423.9 540.1 425.0 536.2 426.1 537.3 427.2 539.1 428.4 532.1 429.5 529.5 430.6 533.1 431.7 531.6 432.8 529.5 433.9 531.2 435.0 531.1 436.1 531.5 437.2 530.6 438.3 530.1 439.4 530.9 440.5 520.7 441.7 524.7 442.8 529.9 443.9 526.2 445.0 522.5 446.1 524.3 447.2 529.5 448.3 528.9 449.4 535.4 450.5 525.9 451.6 526.4 452.7 533.1 453.8 534.6 454.9 531.4 456.1 529.2 457.2 527.8 458.3 528.4 459.4 532.1 460.5 532.2 461.6 534.7 462.7 541.0 463.8 536.0 464.9 538.5 466.0 540.3 467.1 530.7 468.2 531.7 469.4 523.9 470.5 519.4 471.6 528.0 472.7 517.0 473.8 516.3 474.9 509.5 476.0 515.3 477.1 515.6 478.2 513.2 479.3 516.0 480.4 513.5 481.5 512.9 482.6 512.1 483.8 510.7 484.9 504.6 486.0 511.2 487.1 509.2 488.2 501.9 489.3 503.7 490.4 497.7 491.5 509.2 492.6 510.7 493.7 507.6 494.8 511.1 495.9 513.9 497.1 507.5 498.2 504.4 499.3 505.0 500.4 508.9 501.5 508.5 502.6 506.5 503.7 505.9 504.8 511.5 505.9 506.6 507.0 511.5 508.1 512.2 509.2 518.5 510.3 519.9 511.5 515.4 512.6 523.0 513.7 522.6 514.8 519.8 515.9 519.7 517.0 520.3 518.1 521.9 519.2 523.5 520.3 518.8 521.4 529.9 522.5 524.1 523.6 523.3 524.8 525.6 525.9 527.4 527.0 524.2 528.1 519.6 529.2 520.7 530.3 525.0 531.4 519.7 532.5 521.4 533.6 524.3 534.7 529.8 535.8 531.6 536.9 526.0 538.0 527.7 539.2 531.9 540.3 529.0 541.4 528.6 542.5 526.4 543.6 521.8 544.7 528.7 545.8 526.6 546.9 525.7 548.0 540.6 549.1 538.3 550.2 537.6 551.3 534.8 552.5 529.1 553.6 525.8 554.7 532.5 555.8 534.7 556.9 527.4 558.0 517.9 559.1 512.1 560.2 508.6 561.3 509.7 562.4 510.1 563.5 512.2 564.6 509.3 565.7 509.5 566.9 508.5 568.0 505.5 569.1 506.6 570.2 509.8 571.3 504.4 572.4 507.1 573.5 512.5 574.6 508.7 575.7 508.3 576.8 505.5 577.9 509.1 579.0 507.4 580.2 505.2 581.3 503.4 582.4 500.7 583.5 495.5 584.6 495.6 585.7 495.1 586.8 492.8 587.9 492.1 589.0 491.2 590.1 487.0 591.2 487.1 592.3 483.7 593.4 485.9 594.6 481.7 595.7 488.8 596.8 486.1 597.9 485.1 599.0 481.1 600.1 488.4 601.2 489.4 602.3 490.6 603.4 491.4 604.5 496.6 605.6 496.7 606.7 500.5 607.9 499.2 609.0 497.9 610.1 498.2 611.2 500.3 612.3 502.2 613.4 505.6 614.5 504.2 615.6 505.2 616.7 510.3 617.8 507.9 618.9 510.7 620.0 513.2 621.1 517.1 622.3 519.3 623.4 517.4 624.5 515.1 625.6 506.2 626.7 512.3 627.8 506.7 628.9 505.5 630.0 498.9 631.1 494.9 632.2 493.9 633.3 492.8 634.4 494.0 635.6 490.6 636.7 488.4 637.8 493.3 638.9 491.7 640.0 496.4 641.1 494.4 642.2 490.9 643.3 487.1 644.4 493.6 645.5 489.2 646.6 495.8 647.7 491.8 648.8 496.7 650.0 492.8 651.1 492.3 652.2 495.6 653.3 492.1 654.4 497.6 655.5 497.2 656.6 496.3 657.7 493.4 658.8 494.8 659.9 498.9 661.0 502.9 662.1 502.9 663.3 507.2 664.4 506.9 665.5 509.0 666.6 509.0 667.7 511.2 668.8 514.9 669.9 517.4 671.0 518.6 672.1 519.2 673.2 516.0 674.3 520.1 675.4 521.0 676.5 516.2 677.7 517.5 678.8 522.2 679.9 521.6 681.0 525.6 682.1 520.3 683.2 519.4 684.3 527.9 685.4 528.4 686.5 527.3 687.6 526.3 688.7 527.6 689.8 541.5 691.0 545.1 692.1 552.4 693.2 581.8 694.3 594.9 695.4 601.8 696.5 610.2 697.6 633.7 698.7 652.1 699.8 682.3 700.9 695.9 702.0 711.9 703.1 725.3 704.2 739.3 705.4 736.5 706.5 730.3 707.6 720.6 708.7 708.3 709.8 684.4 710.9 647.5 712.0 595.2 713.1 549.8 714.2 500.5 715.3 447.2 716.4 386.0 717.5 320.4 718.7 278.7 719.8 254.0 720.9 226.8 722.0 200.0 723.1 175.3 724.2 179.3 725.3 174.5 726.4 171.6 727.5 170.3 728.6 172.8 729.7 176.9 730.8 172.3 731.9 178.4 733.1 178.5 734.2 175.0 735.3 173.0 736.4 170.5 737.5 176.8 738.6 168.5 739.7 159.9 740.8 161.6 741.9 158.5 743.0 156.2 744.1 160.2 745.2 155.0 746.4 161.2 747.5 159.7 748.6 161.5 749.7 160.6 750.8 157.1 751.9 161.0 753.0 162.4 754.1 167.5 755.2 173.2 756.3 170.0 757.4 170.8 758.5 165.9 759.6 164.4 760.8 162.5 761.9 165.9 763.0 157.3 764.1 165.2 765.2 166.5 766.3 167.2 767.4 166.5 768.5 161.6 769.6 158.9 770.7 155.1 771.8 164.1 772.9 161.3 774.1 156.7 775.2 155.5 776.3 158.6 777.4 154.4 778.5 155.0 779.6 149.5 780.7 148.0 781.8 153.3 782.9 142.5 784.0 146.9 785.1 148.2 786.2 148.8 787.3 148.0 788.5 142.9 789.6 147.9 790.7 147.6 791.8 145.6 792.9 142.1 794.0 143.4 795.1 145.9 796.2 141.3 797.3 141.9 798.4 146.5 799.5 139.7 800.6 142.8 801.8 136.0 802.9 135.2 804.0 138.2 805.1 139.6 806.2 141.5 807.3 140.7 808.4 146.5 809.5 145.8 810.6 135.6 811.7 137.5 812.8 134.2 813.9 137.0 815.0 138.2 816.2 140.4 817.3 144.4 818.4 141.6 819.5 141.5 820.6 139.5 821.7 140.1 822.8 143.7 823.9 140.8 825.0 142.3 826.1 138.2 827.2 139.9 828.3 134.6 829.5 135.7 830.6 136.6 831.7 129.8 832.8 127.0 833.9 133.2 835.0 130.9 836.1 132.2 837.2 139.7 838.3 137.7 839.4 139.6 840.5 142.1 841.6 137.4 842.7 132.7 843.9 136.6 845.0 135.1 846.1 135.4 847.2 137.3 848.3 133.9 849.4 131.7 850.5 130.2 851.6 127.0 852.7 128.4 853.8 126.1 854.9 130.8 856.0 134.8 857.2 140.2 858.3 133.9 859.4 136.7 860.5 133.3 861.6 133.9" marker-start="url(#md)" marker-mid="url(#md)" marker-end="url(#md)"/>
</g>
<g clip-path="url(#cr)" fill="none" stroke="none">
<path d="M897.0 546.9 898.1 543.9 899.2 541.6 900.3 541.1 901.4 538.1 902.5 539.1 903.6 538.1 904.8 540.4 905.9 542.2 907.0 544.2 908.1 547.7 909.2 545.7 910.3 548.6 911.4 554.5 912.5 562.5 913.6 575.4 914.7 584.0 915.8 595.3 916.9 606.2 918.1 621.0 919.2 628.9 920.3 639.7 921.4 646.1 922.5 648.4 923.6 654.5 924.7 658.1 925.8 665.8 926.9 669.7 928.0 678.2 929.1 677.0 930.2 679.6 931.3 683.8 932.5 685.4 933.6 690.1 934.7 692.7 935.8 696.6 936.9 693.1 938.0 688.0 939.1 687.1 940.2 682.0 941.3 674.3 942.4 662.6 943.5 655.1 944.6 647.6 945.8 640.3 946.9 629.1 948.0 625.9 949.1 614.0 950.2 604.7 951.3 593.5 952.4 583.9 953.5 570.8 954.6 557.8 955.7 545.1 956.8 536.5 957.9 529.4 959.0 512.0 960.2 501.9 961.3 495.0 962.4 492.4 963.5 483.4 964.6 480.7 965.7 478.5 966.8 482.4 967.9 474.2 969.0 473.7 970.1 473.8 971.2 469.6 972.3 469.3 973.5 468.0 974.6 467.4 975.7 469.9 976.8 473.6 977.9 472.3 979.0 472.6 980.1 473.0 981.2 475.4 982.3 477.9 983.4 478.3 984.5 480.2 985.6 485.7 986.7 481.9 987.9 483.5 989.0 487.3 990.1 486.9 991.2 488.8 992.3 492.0 993.4 493.6 994.5 495.8 995.6 499.0 996.7 499.9 997.8 499.7 998.9 499.9 1000.0 503.3 1001.2 503.2 1002.3 503.0 1003.4 507.1 1004.5 505.8 1005.6 506.7 1006.7 508.7 1007.8 505.8 1008.9 506.4 1010.0 505.0 1011.1 504.6 1012.2 508.1 1013.3 510.0 1014.4 505.5 1015.6 508.8 1016.7 508.3 1017.8 509.2 1018.9 505.9 1020.0 508.1 1021.1 513.6 1022.2 512.4 1023.3 514.7 1024.4 518.1 1025.5 520.5 1026.6 521.9 1027.7 527.3 1028.9 533.9 1030.0 538.0 1031.1 544.3 1032.2 555.9 1033.3 562.5 1034.4 565.2 1035.5 569.1 1036.6 575.4 1037.7 573.9 1038.8 576.0 1039.9 570.8 1041.0 566.6 1042.1 564.9 1043.3 558.8 1044.4 556.0 1045.5 543.1 1046.6 536.4 1047.7 525.3 1048.8 519.1 1049.9 505.8 1051.0 496.8 1052.1 488.0 1053.2 475.0 1054.3 459.2 1055.4 448.3 1056.6 436.0 1057.7 426.6 1058.8 423.2 1059.9 424.3 1061.0 424.3 1062.1 418.2 1063.2 416.6 1064.3 414.1 1065.4 413.7 1066.5 408.0 1067.6 413.3 1068.7 416.0 1069.8 414.9 1071.0 416.4 1072.1 419.5 1073.2 425.4 1074.3 430.5 1075.4 431.0 1076.5 434.5 1077.6 441.4 1078.7 445.8 1079.8 450.8 1080.9 452.8 1082.0 459.2 1083.1 463.7 1084.3 463.6 1085.4 471.2 1086.5 477.9 1087.6 479.3 1088.7 477.4 1089.8 475.9 1090.9 479.2 1092.0 479.3 1093.1 481.6 1094.2 484.6 1095.3 481.9 1096.4 483.1 1097.5 481.2 1098.7 486.1 1099.8 485.4 1100.9 486.4 1102.0 492.3 1103.1 489.9 1104.2 490.5 1105.3 485.8 1106.4 490.4 1107.5 488.5 1108.6 483.5 1109.7 481.1 1110.8 478.0 1112.0 478.2 1113.1 471.8 1114.2 476.5 1115.3 480.7 1116.4 478.9 1117.5 483.5 1118.6 481.8 1119.7 482.6 1120.8 485.7 1121.9 484.8 1123.0 485.9 1124.1 491.4 1125.2 496.6 1126.4 504.7 1127.5 513.3 1128.6 519.9 1129.7 523.9 1130.8 530.7 1131.9 534.6 1133.0 543.9 1134.1 554.7 1135.2 565.5 1136.3 576.5 1137.4 586.9 1138.5 591.7 1139.7 594.6 1140.8 598.5 1141.9 600.5 1143.0 605.8 1144.1 611.8 1145.2 616.0 1146.3 620.8 1147.4 619.7 1148.5 625.6 1149.6 628.2 1150.7 618.6 1151.8 603.3 1152.9 590.8 1154.1 575.1 1155.2 560.9 1156.3 540.9 1157.4 525.5 1158.5 511.3 1159.6 494.0 1160.7 480.4 1161.8 479.9 1162.9 480.4 1164.0 486.9 1165.1 489.2 1166.2 491.1 1167.4 494.2 1168.5 498.7 1169.6 506.0 1170.7 513.3 1171.8 525.2 1172.9 529.7 1174.0 535.2 1175.1 539.5 1176.2 543.0 1177.3 544.7 1178.4 553.0 1179.5 556.2 1180.6 558.7 1181.8 563.1 1182.9 565.6 1184.0 569.4 1185.1 564.0 1186.2 559.0 1187.3 549.6 1188.4 545.5 1189.5 540.0 1190.6 533.5 1191.7 526.0 1192.8 523.8 1193.9 516.8 1195.1 509.7 1196.2 504.4 1197.3 501.7 1198.4 499.9 1199.5 490.6 1200.6 490.7 1201.7 485.0 1202.8 480.6 1203.9 479.0 1205.0 473.5 1206.1 480.2 1207.2 490.2 1208.3 492.4 1209.5 510.0 1210.6 519.1 1211.7 527.4 1212.8 536.9 1213.9 548.5 1215.0 559.2 1216.1 569.3 1217.2 575.2 1218.3 587.5 1219.4 603.6 1220.5 619.0 1221.6 627.4 1222.8 633.0 1223.9 642.2 1225.0 646.9 1226.1 653.7 1227.2 658.7 1228.3 671.1 1229.4 676.7 1230.5 686.9 1231.6 689.9 1232.7 677.2 1233.8 663.3 1234.9 631.7 1236.0 620.7 1237.2 607.5 1238.3 598.3 1239.4 587.4 1240.5 581.4 1241.6 570.4 1242.7 565.0 1243.8 551.6 1244.9 539.8 1246.0 528.2 1247.1 518.7 1248.2 514.9 1249.3 516.9 1250.5 521.2 1251.6 520.3 1252.7 521.1 1253.8 522.6 1254.9 527.0 1256.0 530.0 1257.1 533.2 1258.2 532.9 1259.3 535.2 1260.4 535.2 1261.5 540.5 1262.6 537.7 1263.7 537.0 1264.9 534.8 1266.0 530.5 1267.1 533.3 1268.2 529.5 1269.3 527.8 1270.4 512.5 1271.5 501.7 1272.6 496.0 1273.7 491.7 1274.8 490.0 1275.9 486.9 1277.0 483.0 1278.2 482.8 1279.3 480.8 1280.4 481.3 1281.5 481.2 1282.6 483.3 1283.7 486.7 1284.8 492.2 1285.9 495.2 1287.0 493.4 1288.1 496.7 1289.2 497.6 1290.3 501.0 1291.4 502.1 1292.6 504.0 1293.7 501.1 1294.8 507.7 1295.9 507.0 1297.0 510.7 1298.1 511.3 1299.2 509.9 1300.3 511.1 1301.4 514.6 1302.5 517.1 1303.6 515.4 1304.7 516.7 1305.9 517.1 1307.0 520.8 1308.1 522.7 1309.2 526.4 1310.3 530.5 1311.4 531.5 1312.5 533.3 1313.6 537.4 1314.7 541.0 1315.8 541.9 1316.9 541.9 1318.0 541.2 1319.1 541.6 1320.3 539.2 1321.4 537.0 1322.5 537.7 1323.6 541.0 1324.7 536.2 1325.8 540.7 1326.9 534.8 1328.0 536.6 1329.1 532.9 1330.2 535.6 1331.3 538.2 1332.4 534.1 1333.6 535.3 1334.7 537.2 1335.8 537.3 1336.9 533.8 1338.0 533.6 1339.1 535.7 1340.2 535.8 1341.3 536.8 1342.4 535.4 1343.5 536.4 1344.6 536.8 1345.7 532.1 1346.8 535.3 1348.0 534.9 1349.1 535.9 1350.2 533.3 1351.3 534.5 1352.4 535.9 1353.5 536.6 1354.6 540.4 1355.7 539.7 1356.8 537.9 1357.9 540.1 1359.0 537.6 1360.1 535.4 1361.3 535.2 1362.4 536.4 1363.5 536.8 1364.6 537.0 1365.7 538.1 1366.8 542.4 1367.9 539.9 1369.0 545.2 1370.1 548.1 1371.2 549.8 1372.3 556.3 1373.4 563.1 1374.5 569.0 1375.7 573.9 1376.8 582.2 1377.9 586.5 1379.0 592.5 1380.1 599.6 1381.2 598.2 1382.3 604.2 1383.4 605.4 1384.5 604.9 1385.6 607.8 1386.7 608.8 1387.8 609.7 1389.0 615.4 1390.1 615.1 1391.2 615.3 1392.3 622.5 1393.4 626.0 1394.5 634.8 1395.6 642.7 1396.7 656.9 1397.8 693.6 1398.9 705.7 1400.0 721.2 1401.1 733.5 1402.2 748.3 1403.4 754.2 1404.5 753.6 1405.6 742.0 1406.7 714.7 1407.8 682.7 1408.9 650.3 1410.0 626.0 1411.1 593.6 1412.2 491.0 1413.3 427.7 1414.4 361.7 1415.5 300.8 1416.7 275.8 1417.8 249.5 1418.9 228.1 1420.0 216.7 1421.1 199.9 1422.2 198.2 1423.3 191.1 1424.4 189.5 1425.5 186.6 1426.6 181.7 1427.7 183.5 1428.8 187.6 1429.9 189.3 1431.1 190.1 1432.2 191.6 1433.3 192.6 1434.4 198.2 1435.5 192.4 1436.6 189.1 1437.7 187.0 1438.8 186.5 1439.9 183.6 1441.0 183.6 1442.1 177.6 1443.2 179.5 1444.4 179.2 1445.5 176.3 1446.6 175.7 1447.7 176.3 1448.8 179.4 1449.9 175.1 1451.0 177.6 1452.1 177.6 1453.2 181.4 1454.3 185.8 1455.4 183.6 1456.5 187.6 1457.6 184.9 1458.8 185.4 1459.9 185.0 1461.0 188.0 1462.1 185.5 1463.2 186.2 1464.3 187.0 1465.4 188.4 1466.5 184.7 1467.6 186.8 1468.7 184.8 1469.8 184.2 1470.9 186.5 1472.1 182.7 1473.2 182.2 1474.3 184.6 1475.4 183.2 1476.5 185.7 1477.6 188.2 1478.7 191.1 1479.8 194.1 1480.9 196.0 1482.0 196.1 1483.1 199.2 1484.2 200.2 1485.3 199.7 1486.5 203.7 1487.6 201.5 1488.7 203.5 1489.8 201.5 1490.9 200.4 1492.0 201.3 1493.1 198.2 1494.2 196.2 1495.3 200.1 1496.4 198.5 1497.5 197.0 1498.6 194.8 1499.8 192.5 1500.9 188.4 1502.0 192.2 1503.1 192.4 1504.2 193.4 1505.3 189.5 1506.4 190.8 1507.5 188.0 1508.6 188.6 1509.7 184.3 1510.8 186.8 1511.9 188.6 1513.0 189.6 1514.2 190.2 1515.3 188.2 1516.4 185.1 1517.5 191.2 1518.6 186.5 1519.7 192.0 1520.8 194.2 1521.9 191.5 1523.0 188.0 1524.1 182.7 1525.2 175.8 1526.3 173.9 1527.5 168.9 1528.6 168.3 1529.7 166.1 1530.8 164.4 1531.9 162.2 1533.0 157.4 1534.1 154.1 1535.2 152.6 1536.3 153.1 1537.4 155.2 1538.5 155.4 1539.6 154.7 1540.7 154.0 1541.9 156.8 1543.0 154.9 1544.1 157.1 1545.2 158.3 1546.3 159.2 1547.4 155.8 1548.5 157.8 1549.6 159.3 1550.7 163.3 1551.8 163.6 1552.9 164.9 1554.0 166.7 1555.2 162.1 1556.3 166.4 1557.4 168.2 1558.5 169.6 1559.6 173.7 1560.7 173.7" marker-start="url(#mk)" marker-mid="url(#mk)" marker-end="url(#mk)"/>
<path d="M897.0 601.8 898.1 597.4 899.2 596.7 900.3 609.5 901.4 624.8 902.5 639.5 903.6 649.0 904.8 652.9 905.9 657.3 907.0 656.8 908.1 648.9 909.2 644.0 910.3 642.2 911.4 626.8 912.5 617.3 913.6 610.8 914.7 597.9 915.8 584.2 916.9 576.4 918.1 567.7 919.2 564.8 920.3 560.7 921.4 551.2 922.5 551.7 923.6 545.6 924.7 539.0 925.8 529.9 926.9 524.9 928.0 520.9 929.1 516.6 930.2 512.0 931.3 500.2 932.5 502.2 933.6 502.6 934.7 505.5 935.8 508.1 936.9 513.8 938.0 511.4 939.1 516.5 940.2 525.3 941.3 535.3 942.4 549.9 943.5 555.7 944.6 565.9 945.8 573.9 946.9 582.1 948.0 580.6 949.1 587.6 950.2 596.9 951.3 603.4 952.4 595.2 953.5 585.8 954.6 578.1 955.7 565.2 956.8 557.9 957.9 546.2 959.0 540.2 960.2 533.5 961.3 521.5 962.4 518.1 963.5 511.2 964.6 500.9 965.7 493.3 966.8 494.6 967.9 494.5 969.0 499.0 970.1 500.2 971.2 503.9 972.3 506.5 973.5 509.9 974.6 511.2 975.7 517.3 976.8 524.3 977.9 526.2 979.0 527.3 980.1 529.7 981.2 536.1 982.3 537.3 983.4 537.0 984.5 542.4 985.6 548.9 986.7 544.6 987.9 550.4 989.0 551.4 990.1 553.8 991.2 549.9 992.3 545.8 993.4 539.2 994.5 540.2 995.6 537.1 996.7 533.1 997.8 526.1 998.9 521.0 1000.0 520.3 1001.2 507.9 1002.3 503.4 1003.4 495.5 1004.5 491.7 1005.6 487.7 1006.7 485.1 1007.8 479.1 1008.9 475.0 1010.0 480.9 1011.1 487.0 1012.2 491.3 1013.3 496.6 1014.4 505.5 1015.6 510.0 1016.7 519.3 1017.8 525.8 1018.9 535.6 1020.0 558.0 1021.1 571.7 1022.2 582.4 1023.3 593.9 1024.4 599.4 1025.5 606.7 1026.6 616.8 1027.7 626.5 1028.9 636.9 1030.0 632.4 1031.1 631.5 1032.2 626.3 1033.3 617.4 1034.4 615.7 1035.5 608.2 1036.6 608.1 1037.7 603.0 1038.8 592.4 1039.9 579.6 1041.0 572.7 1042.1 559.9 1043.3 549.2 1044.4 536.9 1045.5 524.5 1046.6 516.0 1047.7 502.7 1048.8 479.0 1049.9 444.0 1051.0 423.3 1052.1 411.7 1053.2 404.8 1054.3 409.4 1055.4 415.5 1056.6 422.6 1057.7 424.0 1058.8 429.2 1059.9 437.6 1061.0 449.5 1062.1 459.3 1063.2 472.5 1064.3 477.2 1065.4 489.9 1066.5 497.5 1067.6 507.5 1068.7 514.0 1069.8 522.6 1071.0 522.1 1072.1 513.9 1073.2 513.7 1074.3 508.0 1075.4 504.9 1076.5 499.6 1077.6 497.2 1078.7 489.9 1079.8 483.7 1080.9 479.3 1082.0 466.1 1083.1 458.4 1084.3 448.9 1085.4 449.8 1086.5 441.5 1087.6 446.3 1088.7 446.2 1089.8 451.8 1090.9 458.5 1092.0 463.6 1093.1 467.4 1094.2 473.1 1095.3 468.7 1096.4 467.4 1097.5 461.8 1098.7 460.2 1099.8 454.8 1100.9 455.0 1102.0 442.9 1103.1 432.6 1104.2 421.1 1105.3 413.5 1106.4 407.1 1107.5 411.5 1108.6 419.5 1109.7 420.7 1110.8 429.1 1112.0 431.8 1113.1 427.4 1114.2 434.5 1115.3 436.3 1116.4 438.4 1117.5 441.2 1118.6 442.1 1119.7 450.5 1120.8 455.2 1121.9 457.5 1123.0 465.8 1124.1 470.0 1125.2 478.3 1126.4 481.9 1127.5 488.7 1128.6 490.6 1129.7 497.4 1130.8 496.7 1131.9 493.9 1133.0 493.4 1134.1 492.0 1135.2 481.4 1136.3 482.2 1137.4 476.7 1138.5 473.6 1139.7 470.3 1140.8 467.0 1141.9 463.1 1143.0 469.1 1144.1 475.5 1145.2 479.6 1146.3 484.9 1147.4 493.7 1148.5 504.0 1149.6 517.7 1150.7 528.0 1151.8 542.6 1152.9 553.9 1154.1 563.4 1155.2 571.4 1156.3 581.5 1157.4 585.6 1158.5 598.1 1159.6 607.0 1160.7 613.9 1161.8 623.2 1162.9 628.9 1164.0 623.5 1165.1 614.6 1166.2 606.7 1167.4 604.4 1168.5 601.9 1169.6 593.2 1170.7 587.7 1171.8 579.9 1172.9 575.9 1174.0 571.9 1175.1 559.2 1176.2 559.4 1177.3 549.5 1178.4 552.8 1179.5 547.7 1180.6 540.8 1181.8 536.7 1182.9 529.6 1184.0 514.2 1185.1 510.7 1186.2 504.0 1187.3 497.3 1188.4 494.7 1189.5 484.0 1190.6 482.4 1191.7 475.8 1192.8 473.2 1193.9 478.7 1195.1 480.3 1196.2 489.3 1197.3 497.6 1198.4 505.7 1199.5 514.6 1200.6 522.3 1201.7 529.2 1202.8 548.2 1203.9 559.1 1205.0 570.3 1206.1 586.5 1207.2 592.0 1208.3 607.1 1209.5 611.1 1210.6 617.8 1211.7 621.7 1212.8 630.4 1213.9 632.6 1215.0 625.6 1216.1 617.2 1217.2 605.7 1218.3 598.9 1219.4 586.0 1220.5 577.2 1221.6 560.4 1222.8 552.4 1223.9 536.3 1225.0 521.8 1226.1 510.1 1227.2 499.0 1228.3 488.9 1229.4 475.8 1230.5 465.1 1231.6 458.3 1232.7 449.5 1233.8 447.4 1234.9 448.6 1236.0 455.5 1237.2 463.6 1238.3 473.9 1239.4 492.2 1240.5 504.2 1241.6 520.1 1242.7 534.7 1243.8 560.6 1244.9 576.3 1246.0 580.6 1247.1 586.5 1248.2 593.2 1249.3 601.6 1250.5 610.0 1251.6 617.9 1252.7 625.6 1253.8 636.6 1254.9 643.4 1256.0 653.2 1257.1 663.9 1258.2 669.8 1259.3 665.5 1260.4 661.4 1261.5 658.4 1262.6 654.4 1263.7 650.9 1264.9 643.6 1266.0 641.3 1267.1 636.9 1268.2 631.5 1269.3 632.0 1270.4 620.6 1271.5 614.7 1272.6 613.0 1273.7 612.6 1274.8 606.6 1275.9 607.5 1277.0 600.7 1278.2 599.1 1279.3 597.1 1280.4 595.2 1281.5 594.2 1282.6 592.4 1283.7 591.0 1284.8 588.5 1285.9 590.2 1287.0 588.0 1288.1 586.6 1289.2 586.8 1290.3 584.3 1291.4 582.7 1292.6 584.0 1293.7 580.0 1294.8 577.6 1295.9 579.3 1297.0 578.0 1298.1 579.3 1299.2 577.9 1300.3 576.7 1301.4 575.9 1302.5 575.4 1303.6 574.2 1304.7 572.6 1305.9 568.2 1307.0 560.9 1308.1 554.8 1309.2 548.2 1310.3 540.6 1311.4 535.8 1312.5 532.2 1313.6 529.3 1314.7 526.9 1315.8 527.8 1316.9 526.7 1318.0 521.2 1319.1 523.7 1320.3 522.6 1321.4 526.2 1322.5 534.6 1323.6 539.0 1324.7 545.4 1325.8 547.2 1326.9 552.3 1328.0 557.1 1329.1 561.8 1330.2 562.2 1331.3 558.8 1332.4 558.3 1333.6 559.7 1334.7 557.0 1335.8 559.6 1336.9 557.8 1338.0 551.6 1339.1 548.7 1340.2 541.4 1341.3 542.3 1342.4 539.6 1343.5 532.7 1344.6 529.5 1345.7 526.9 1346.8 525.8 1348.0 522.7 1349.1 515.4 1350.2 513.0 1351.3 511.7 1352.4 509.6 1353.5 507.4 1354.6 507.2 1355.7 502.9 1356.8 500.0 1357.9 502.1 1359.0 502.6 1360.1 508.4 1361.3 510.1 1362.4 513.9 1363.5 520.8 1364.6 529.7 1365.7 538.9 1366.8 545.8 1367.9 554.5 1369.0 560.0 1370.1 569.9 1371.2 572.3 1372.3 574.5 1373.4 580.7 1374.5 580.0 1375.7 583.5 1376.8 583.6 1377.9 582.2 1379.0 585.7 1380.1 587.1 1381.2 584.6 1382.3 584.8 1383.4 584.0 1384.5 586.4 1385.6 592.9 1386.7 593.4 1387.8 596.2 1389.0 602.3 1390.1 610.8 1391.2 614.7 1392.3 622.8 1393.4 639.8 1394.5 667.9 1395.6 691.0 1396.7 707.3 1397.8 738.0 1398.9 759.1 1400.0 767.2 1401.1 775.6 1402.2 792.1 1403.4 793.1 1404.5 779.5 1405.6 772.9 1406.7 736.7 1407.8 684.6 1408.9 654.7 1410.0 599.9 1411.1 538.1 1412.2 473.8 1413.3 427.3 1414.4 377.5 1415.5 324.6 1416.7 279.1 1417.8 227.6 1418.9 197.2 1420.0 169.2 1421.1 140.4 1422.2 133.3 1423.3 132.2 1424.4 127.9 1425.5 130.2 1426.6 126.2 1427.7 125.8 1428.8 129.0 1429.9 123.4 1431.1 121.6 1432.2 124.3 1433.3 124.0 1434.4 123.0 1435.5 122.2 1436.6 114.7 1437.7 111.6 1438.8 109.0 1439.9 103.2 1441.0 102.5 1442.1 99.6 1443.2 97.5 1444.4 97.1 1445.5 97.5 1446.6 97.6 1447.7 92.8 1448.8 96.2 1449.9 99.7 1451.0 102.3 1452.1 105.3 1453.2 107.5 1454.3 110.4 1455.4 111.0 1456.5 111.7 1457.6 109.5 1458.8 107.2 1459.9 105.0 1461.0 102.7 1462.1 103.2 1463.2 98.3 1464.3 97.0 1465.4 96.6 1466.5 94.1 1467.6 89.4 1468.7 89.6 1469.8 93.6 1470.9 86.5 1472.1 91.4 1473.2 87.9 1474.3 91.0 1475.4 93.6 1476.5 90.8 1477.6 95.6 1478.7 91.4 1479.8 96.9 1480.9 97.6 1482.0 100.8 1483.1 102.1 1484.2 102.8 1485.3 102.4 1486.5 99.6 1487.6 99.2 1488.7 102.3 1489.8 101.2 1490.9 98.8 1492.0 99.3 1493.1 103.3 1494.2 102.7 1495.3 103.1 1496.4 102.7 1497.5 98.3 1498.6 100.2 1499.8 95.7 1500.9 96.7 1502.0 94.2 1503.1 95.9 1504.2 93.8 1505.3 92.1 1506.4 92.3 1507.5 92.1 1508.6 92.1 1509.7 91.3 1510.8 87.5 1511.9 86.8 1513.0 89.8 1514.2 87.9 1515.3 89.2 1516.4 87.7 1517.5 89.2 1518.6 86.2 1519.7 81.4 1520.8 81.4 1521.9 82.1 1523.0 78.5 1524.1 79.9 1525.2 79.3 1526.3 77.9 1527.5 75.1 1528.6 68.4 1529.7 71.3 1530.8 65.6 1531.9 65.4 1533.0 61.5 1534.1 62.4 1535.2 58.4 1536.3 57.0 1537.4 55.6 1538.5 53.7 1539.6 52.4 1540.7 55.9 1541.9 54.0 1543.0 53.5 1544.1 47.7 1545.2 45.9 1546.3 51.4 1547.4 48.8 1548.5 43.4 1549.6 46.1 1550.7 44.2 1551.8 40.9 1552.9 40.6 1554.0 42.9 1555.2 36.1 1556.3 36.2 1557.4 32.3 1558.5 30.0 1559.6 36.4 1560.7 33.1" marker-start="url(#mr)" marker-mid="url(#mr)" marker-end="url(#mr)"/>
<path d="M897.0 494.5 898.1 486.7 899.2 483.6 900.3 484.4 901.4 488.1 902.5 484.3 903.6 492.6 904.8 495.1 905.9 501.6 907.0 501.5 908.1 513.6 909.2 524.3 910.3 531.4 911.4 546.4 912.5 559.2 913.6 563.8 914.7 571.3 915.8 583.4 916.9 595.7 918.1 608.4 919.2 620.5 920.3 626.3 921.4 636.2 922.5 641.7 923.6 648.3 924.7 654.6 925.8 653.9 926.9 653.7 928.0 647.0 929.1 640.3 930.2 628.1 931.3 617.2 932.5 607.3 933.6 592.2 934.7 575.0 935.8 559.7 936.9 542.3 938.0 532.4 939.1 514.7 940.2 510.6 941.3 502.3 942.4 502.4 943.5 494.6 944.6 501.8 945.8 506.1 946.9 516.9 948.0 519.3 949.1 529.6 950.2 538.5 951.3 544.2 952.4 551.6 953.5 556.1 954.6 562.6 955.7 570.7 956.8 579.7 957.9 585.5 959.0 603.4 960.2 621.1 961.3 638.6 962.4 657.2 963.5 666.5 964.6 685.5 965.7 696.3 966.8 704.2 967.9 712.7 969.0 723.1 970.1 729.6 971.2 734.5 972.3 733.4 973.5 728.6 974.6 727.0 975.7 719.7 976.8 706.2 977.9 698.5 979.0 688.0 980.1 677.9 981.2 666.2 982.3 660.9 983.4 650.7 984.5 640.7 985.6 628.4 986.7 617.6 987.9 613.1 989.0 609.8 990.1 604.1 991.2 598.3 992.3 597.2 993.4 591.8 994.5 582.4 995.6 577.5 996.7 570.4 997.8 568.1 998.9 562.5 1000.0 560.3 1001.2 549.8 1002.3 546.9 1003.4 533.3 1004.5 523.5 1005.6 510.2 1006.7 502.5 1007.8 493.4 1008.9 485.9 1010.0 477.8 1011.1 469.9 1012.2 464.1 1013.3 457.4 1014.4 450.9 1015.6 449.8 1016.7 445.8 1017.8 450.1 1018.9 459.1 1020.0 461.9 1021.1 467.7 1022.2 469.8 1023.3 478.8 1024.4 490.7 1025.5 496.5 1026.6 507.2 1027.7 515.7 1028.9 527.5 1030.0 539.1 1031.1 549.4 1032.2 564.0 1033.3 575.6 1034.4 591.9 1035.5 611.0 1036.6 636.4 1037.7 659.7 1038.8 660.5 1039.9 653.7 1041.0 648.3 1042.1 644.7 1043.3 635.4 1044.4 628.5 1045.5 619.4 1046.6 610.8 1047.7 605.8 1048.8 592.2 1049.9 583.3 1051.0 573.6 1052.1 560.5 1053.2 549.9 1054.3 537.8 1055.4 533.5 1056.6 519.0 1057.7 508.6 1058.8 506.6 1059.9 494.0 1061.0 487.1 1062.1 480.8 1063.2 476.6 1064.3 472.8 1065.4 475.3 1066.5 474.2 1067.6 473.2 1068.7 469.8 1069.8 466.6 1071.0 463.6 1072.1 464.8 1073.2 469.2 1074.3 471.9 1075.4 478.1 1076.5 479.8 1077.6 487.5 1078.7 489.2 1079.8 496.2 1080.9 501.7 1082.0 502.6 1083.1 514.2 1084.3 519.1 1085.4 526.4 1086.5 535.6 1087.6 548.3 1088.7 559.3 1089.8 573.3 1090.9 586.5 1092.0 595.5 1093.1 598.4 1094.2 598.7 1095.3 602.2 1096.4 610.3 1097.5 616.1 1098.7 621.5 1099.8 625.3 1100.9 632.4 1102.0 641.6 1103.1 653.6 1104.2 659.0 1105.3 663.3 1106.4 670.4 1107.5 674.1 1108.6 672.5 1109.7 664.0 1110.8 662.0 1112.0 639.7 1113.1 618.8 1114.2 607.7 1115.3 601.1 1116.4 585.0 1117.5 572.2 1118.6 554.8 1119.7 544.5 1120.8 527.7 1121.9 514.7 1123.0 500.2 1124.1 509.0 1125.2 511.3 1126.4 515.3 1127.5 519.7 1128.6 525.1 1129.7 532.1 1130.8 540.7 1131.9 545.2 1133.0 559.7 1134.1 585.9 1135.2 603.2 1136.3 632.4 1137.4 681.7 1138.5 697.2 1139.7 721.0 1140.8 737.8 1141.9 755.3 1143.0 768.7 1144.1 778.3 1145.2 791.6 1146.3 800.1 1147.4 809.9 1148.5 807.7 1149.6 813.2 1150.7 812.4 1151.8 806.4 1152.9 799.3 1154.1 793.3 1155.2 777.5 1156.3 760.3 1157.4 749.6 1158.5 742.5 1159.6 728.4 1160.7 706.7 1161.8 693.9 1162.9 690.1 1164.0 687.6 1165.1 682.1 1166.2 681.2 1167.4 679.8 1168.5 676.9 1169.6 672.2 1170.7 672.4 1171.8 664.3 1172.9 660.2 1174.0 657.6 1175.1 650.0 1176.2 652.9 1177.3 649.7 1178.4 641.0 1179.5 636.5 1180.6 629.2 1181.8 630.7 1182.9 624.9 1184.0 620.6 1185.1 616.8 1186.2 615.2 1187.3 608.5 1188.4 596.3 1189.5 583.4 1190.6 572.0 1191.7 569.3 1192.8 559.8 1193.9 548.7 1195.1 547.4 1196.2 548.4 1197.3 552.2 1198.4 552.9 1199.5 553.8 1200.6 557.0 1201.7 557.4 1202.8 570.2 1203.9 577.5 1205.0 593.0 1206.1 612.4 1207.2 629.0 1208.3 643.2 1209.5 661.8 1210.6 669.5 1211.7 686.9 1212.8 700.5 1213.9 708.2 1215.0 718.7 1216.1 730.3 1217.2 734.6 1218.3 742.7 1219.4 728.4 1220.5 714.1 1221.6 700.6 1222.8 685.7 1223.9 669.2 1225.0 660.5 1226.1 646.2 1227.2 633.0 1228.3 614.8 1229.4 603.7 1230.5 595.3 1231.6 591.7 1232.7 588.5 1233.8 582.6 1234.9 579.0 1236.0 590.2 1237.2 594.4 1238.3 605.1 1239.4 616.4 1240.5 626.9 1241.6 634.8 1242.7 645.9 1243.8 651.9 1244.9 661.1 1246.0 670.0 1247.1 677.3 1248.2 683.5 1249.3 694.7 1250.5 702.3 1251.6 707.1 1252.7 716.1 1253.8 719.8 1254.9 724.1 1256.0 733.4 1257.1 737.7 1258.2 746.5 1259.3 746.4 1260.4 745.4 1261.5 744.5 1262.6 741.4 1263.7 737.8 1264.9 729.6 1266.0 707.4 1267.1 687.5 1268.2 670.2 1269.3 652.0 1270.4 647.5 1271.5 643.3 1272.6 634.3 1273.7 627.5 1274.8 619.3 1275.9 615.9 1277.0 611.7 1278.2 608.4 1279.3 604.3 1280.4 603.4 1281.5 596.4 1282.6 592.6 1283.7 587.8 1284.8 586.9 1285.9 581.1 1287.0 577.0 1288.1 571.6 1289.2 568.8 1290.3 565.1 1291.4 553.2 1292.6 550.2 1293.7 544.9 1294.8 539.3 1295.9 535.1 1297.0 528.5 1298.1 524.6 1299.2 527.6 1300.3 532.5 1301.4 532.5 1302.5 536.4 1303.6 538.8 1304.7 543.5 1305.9 546.6 1307.0 549.5 1308.1 558.5 1309.2 582.1 1310.3 598.2 1311.4 610.8 1312.5 620.9 1313.6 638.9 1314.7 670.9 1315.8 684.7 1316.9 696.1 1318.0 704.4 1319.1 706.0 1320.3 707.6 1321.4 711.2 1322.5 699.5 1323.6 686.8 1324.7 674.7 1325.8 659.8 1326.9 641.2 1328.0 628.4 1329.1 616.9 1330.2 611.9 1331.3 599.3 1332.4 588.2 1333.6 575.5 1334.7 565.8 1335.8 559.4 1336.9 559.9 1338.0 556.3 1339.1 550.3 1340.2 550.7 1341.3 552.5 1342.4 555.3 1343.5 552.2 1344.6 555.3 1345.7 561.7 1346.8 563.8 1348.0 570.2 1349.1 573.0 1350.2 583.3 1351.3 586.3 1352.4 596.1 1353.5 606.0 1354.6 615.6 1355.7 622.1 1356.8 633.7 1357.9 650.8 1359.0 660.6 1360.1 661.9 1361.3 664.1 1362.4 667.1 1363.5 670.6 1364.6 666.5 1365.7 674.7 1366.8 669.5 1367.9 667.6 1369.0 658.0 1370.1 650.0 1371.2 639.3 1372.3 620.3 1373.4 602.6 1374.5 586.4 1375.7 565.5 1376.8 554.6 1377.9 536.4 1379.0 521.4 1380.1 504.4 1381.2 496.1 1382.3 489.2 1383.4 485.7 1384.5 487.8 1385.6 494.5 1386.7 501.6 1387.8 511.3 1389.0 539.1 1390.1 563.3 1391.2 585.7 1392.3 630.5 1393.4 677.7 1394.5 719.2 1395.6 762.3 1396.7 829.8 1397.8 897.2 1398.9 907.6 1400.0 905.5 1401.1 908.2 1402.2 905.0 1403.4 908.7 1404.5 909.3 1405.6 909.3 1406.7 909.3 1407.8 908.5 1408.9 909.3 1410.0 905.9 1411.1 836.3 1412.2 739.8 1413.3 682.7 1414.4 624.3 1415.5 578.3 1416.7 535.5 1417.8 491.3 1418.9 446.1 1420.0 403.0 1421.1 373.5 1422.2 349.9 1423.3 330.3 1424.4 318.5 1425.5 301.6 1426.6 293.5 1427.7 283.0 1428.8 275.6 1429.9 264.7 1431.1 254.0 1432.2 237.0 1433.3 223.9 1434.4 213.5 1435.5 206.7 1436.6 202.7 1437.7 197.0 1438.8 196.4 1439.9 194.4 1441.0 194.5 1442.1 195.4 1443.2 198.0 1444.4 198.4 1445.5 200.1 1446.6 198.9 1447.7 200.0 1448.8 194.1 1449.9 187.6 1451.0 182.9 1452.1 182.5 1453.2 180.6 1454.3 179.9 1455.4 172.9 1456.5 175.4 1457.6 174.8 1458.8 172.8 1459.9 172.0 1461.0 168.2 1462.1 170.7 1463.2 173.5 1464.3 169.0 1465.4 171.8 1466.5 168.2 1467.6 168.2 1468.7 169.0 1469.8 165.4 1470.9 165.6 1472.1 165.9 1473.2 165.0 1474.3 167.9 1475.4 162.1 1476.5 165.6 1477.6 163.4 1478.7 165.5 1479.8 170.2 1480.9 169.8 1482.0 172.8 1483.1 176.3 1484.2 173.3 1485.3 177.8 1486.5 169.3 1487.6 169.0 1488.7 163.7 1489.8 167.3 1490.9 165.1 1492.0 165.3 1493.1 163.3 1494.2 162.1 1495.3 159.6 1496.4 164.6 1497.5 161.9 1498.6 160.3 1499.8 165.0 1500.9 161.2 1502.0 164.5 1503.1 162.2 1504.2 164.3 1505.3 160.1 1506.4 167.1 1507.5 162.3 1508.6 160.2 1509.7 159.4 1510.8 159.5 1511.9 159.0 1513.0 156.7 1514.2 153.2 1515.3 155.5 1516.4 152.3 1517.5 154.8 1518.6 156.6 1519.7 154.3 1520.8 158.1 1521.9 157.2 1523.0 163.1 1524.1 158.2 1525.2 160.0 1526.3 159.7 1527.5 157.0 1528.6 155.4 1529.7 152.7 1530.8 152.2 1531.9 151.0 1533.0 151.0 1534.1 150.6 1535.2 146.9 1536.3 148.2 1537.4 143.7 1538.5 139.9 1539.6 139.3 1540.7 137.6 1541.9 137.6 1543.0 137.5 1544.1 137.2 1545.2 138.7 1546.3 137.7 1547.4 135.5 1548.5 137.0 1549.6 135.0 1550.7 135.1 1551.8 136.0 1552.9 133.8 1554.0 136.3 1555.2 138.7 1556.3 138.0 1557.4 136.3 1558.5 139.3 1559.6 139.3 1560.7 144.1" marker-start="url(#mb)" marker-mid="url(#mb)" marker-end="url(#mb)"/>
<path d="M897.0 741.1 898.1 738.0 899.2 740.9 900.3 746.0 901.4 750.9 902.5 752.2 903.6 752.4 904.8 752.3 905.9 754.5 907.0 758.2 908.1 758.7 909.2 756.9 910.3 760.1 911.4 757.0 912.5 750.3 913.6 753.4 914.7 751.2 915.8 751.4 916.9 749.2 918.1 749.5 919.2 747.1 920.3 741.7 921.4 733.9 922.5 720.4 923.6 709.5 924.7 697.0 925.8 690.7 926.9 686.6 928.0 681.2 929.1 677.1 930.2 672.6 931.3 667.4 932.5 660.7 933.6 662.3 934.7 654.2 935.8 655.6 936.9 650.3 938.0 651.8 939.1 648.0 940.2 646.4 941.3 647.2 942.4 642.9 943.5 641.8 944.6 643.1 945.8 642.0 946.9 643.2 948.0 644.7 949.1 648.7 950.2 647.9 951.3 651.5 952.4 650.5 953.5 651.4 954.6 653.6 955.7 654.2 956.8 657.1 957.9 661.8 959.0 656.4 960.2 655.7 961.3 651.6 962.4 644.7 963.5 636.9 964.6 633.8 965.7 625.4 966.8 615.3 967.9 599.4 969.0 576.7 970.1 541.5 971.2 527.9 972.3 512.3 973.5 501.1 974.6 485.3 975.7 466.5 976.8 451.9 977.9 437.3 979.0 432.9 980.1 429.9 981.2 427.0 982.3 420.0 983.4 420.7 984.5 421.8 985.6 425.8 986.7 428.7 987.9 429.8 989.0 430.9 990.1 439.7 991.2 448.2 992.3 453.7 993.4 464.2 994.5 468.1 995.6 477.5 996.7 485.1 997.8 499.1 998.9 510.8 1000.0 517.6 1001.2 530.0 1002.3 537.4 1003.4 552.3 1004.5 563.4 1005.6 571.0 1006.7 574.4 1007.8 579.9 1008.9 583.9 1010.0 589.6 1011.1 589.8 1012.2 596.6 1013.3 595.9 1014.4 600.5 1015.6 604.3 1016.7 605.2 1017.8 607.8 1018.9 610.4 1020.0 610.3 1021.1 619.1 1022.2 627.5 1023.3 631.3 1024.4 629.2 1025.5 627.0 1026.6 623.5 1027.7 614.2 1028.9 610.1 1030.0 602.8 1031.1 596.3 1032.2 581.6 1033.3 562.3 1034.4 548.9 1035.5 534.1 1036.6 505.9 1037.7 483.7 1038.8 470.5 1039.9 465.0 1041.0 455.2 1042.1 448.7 1043.3 446.0 1044.4 447.8 1045.5 449.2 1046.6 453.4 1047.7 456.3 1048.8 458.8 1049.9 466.3 1051.0 475.6 1052.1 479.2 1053.2 498.6 1054.3 514.8 1055.4 528.5 1056.6 544.0 1057.7 561.5 1058.8 586.9 1059.9 603.2 1061.0 619.0 1062.1 638.0 1063.2 642.3 1064.3 648.8 1065.4 650.3 1066.5 657.6 1067.6 657.2 1068.7 658.7 1069.8 658.2 1071.0 659.8 1072.1 651.2 1073.2 655.0 1074.3 654.8 1075.4 652.3 1076.5 645.7 1077.6 647.8 1078.7 643.7 1079.8 640.7 1080.9 631.6 1082.0 628.5 1083.1 620.4 1084.3 610.7 1085.4 605.0 1086.5 599.3 1087.6 593.1 1088.7 584.4 1089.8 575.9 1090.9 564.9 1092.0 557.8 1093.1 547.3 1094.2 539.7 1095.3 528.0 1096.4 520.1 1097.5 513.5 1098.7 501.9 1099.8 497.0 1100.9 490.3 1102.0 471.6 1103.1 461.2 1104.2 447.9 1105.3 435.1 1106.4 426.6 1107.5 415.8 1108.6 411.4 1109.7 408.1 1110.8 403.3 1112.0 400.9 1113.1 396.9 1114.2 398.8 1115.3 403.3 1116.4 411.7 1117.5 411.3 1118.6 418.2 1119.7 425.3 1120.8 439.9 1121.9 469.7 1123.0 480.6 1124.1 500.6 1125.2 517.5 1126.4 536.0 1127.5 556.5 1128.6 566.4 1129.7 577.7 1130.8 581.8 1131.9 589.0 1133.0 602.8 1134.1 609.0 1135.2 621.3 1136.3 637.7 1137.4 650.8 1138.5 658.6 1139.7 664.6 1140.8 661.2 1141.9 663.1 1143.0 657.9 1144.1 654.9 1145.2 648.0 1146.3 638.5 1147.4 627.5 1148.5 619.1 1149.6 602.2 1150.7 600.2 1151.8 594.1 1152.9 591.0 1154.1 588.6 1155.2 585.4 1156.3 574.6 1157.4 575.9 1158.5 570.2 1159.6 556.2 1160.7 556.4 1161.8 563.3 1162.9 568.7 1164.0 575.2 1165.1 580.8 1166.2 587.4 1167.4 598.6 1168.5 600.4 1169.6 606.7 1170.7 621.1 1171.8 634.7 1172.9 641.3 1174.0 653.1 1175.1 662.2 1176.2 674.4 1177.3 686.0 1178.4 684.2 1179.5 677.8 1180.6 674.7 1181.8 672.4 1182.9 672.4 1184.0 666.0 1185.1 661.0 1186.2 659.5 1187.3 659.3 1188.4 652.1 1189.5 649.1 1190.6 640.1 1191.7 630.0 1192.8 616.5 1193.9 597.6 1195.1 598.3 1196.2 596.1 1197.3 591.0 1198.4 585.3 1199.5 591.3 1200.6 606.6 1201.7 611.2 1202.8 621.3 1203.9 636.1 1205.0 648.1 1206.1 661.6 1207.2 678.5 1208.3 694.5 1209.5 703.2 1210.6 712.0 1211.7 723.2 1212.8 732.0 1213.9 738.4 1215.0 741.5 1216.1 733.6 1217.2 729.7 1218.3 725.1 1219.4 718.9 1220.5 716.8 1221.6 703.9 1222.8 703.0 1223.9 695.1 1225.0 691.4 1226.1 688.8 1227.2 685.3 1228.3 679.9 1229.4 680.4 1230.5 676.6 1231.6 677.1 1232.7 669.7 1233.8 672.4 1234.9 664.7 1236.0 661.2 1237.2 654.6 1238.3 656.0 1239.4 655.4 1240.5 650.0 1241.6 646.0 1242.7 644.0 1243.8 640.3 1244.9 633.3 1246.0 629.0 1247.1 621.2 1248.2 616.1 1249.3 601.2 1250.5 594.3 1251.6 595.1 1252.7 589.5 1253.8 585.9 1254.9 586.1 1256.0 591.1 1257.1 595.5 1258.2 602.3 1259.3 608.1 1260.4 619.1 1261.5 636.3 1262.6 659.3 1263.7 683.7 1264.9 705.8 1266.0 717.0 1267.1 730.2 1268.2 747.3 1269.3 767.1 1270.4 770.9 1271.5 780.3 1272.6 781.4 1273.7 774.0 1274.8 765.4 1275.9 760.7 1277.0 757.8 1278.2 751.9 1279.3 747.2 1280.4 736.1 1281.5 725.8 1282.6 711.5 1283.7 702.4 1284.8 700.2 1285.9 693.3 1287.0 689.4 1288.1 690.8 1289.2 684.8 1290.3 680.6 1291.4 682.9 1292.6 678.3 1293.7 672.9 1294.8 672.1 1295.9 670.0 1297.0 668.4 1298.1 659.6 1299.2 652.5 1300.3 644.8 1301.4 628.9 1302.5 625.8 1303.6 620.8 1304.7 613.6 1305.9 606.2 1307.0 602.5 1308.1 605.3 1309.2 604.4 1310.3 604.1 1311.4 609.7 1312.5 611.7 1313.6 611.4 1314.7 614.4 1315.8 615.2 1316.9 616.9 1318.0 624.2 1319.1 621.2 1320.3 622.2 1321.4 627.0 1322.5 631.0 1323.6 632.7 1324.7 633.0 1325.8 639.1 1326.9 640.4 1328.0 644.5 1329.1 652.2 1330.2 656.9 1331.3 661.1 1332.4 670.4 1333.6 680.1 1334.7 691.4 1335.8 700.1 1336.9 712.2 1338.0 721.1 1339.1 733.5 1340.2 737.7 1341.3 748.9 1342.4 757.8 1343.5 776.2 1344.6 783.3 1345.7 789.1 1346.8 796.5 1348.0 790.8 1349.1 784.7 1350.2 779.1 1351.3 774.4 1352.4 768.7 1353.5 757.2 1354.6 747.2 1355.7 742.3 1356.8 727.5 1357.9 719.2 1359.0 709.9 1360.1 697.0 1361.3 690.8 1362.4 691.7 1363.5 684.2 1364.6 682.6 1365.7 681.6 1366.8 684.4 1367.9 687.0 1369.0 696.4 1370.1 700.0 1371.2 708.0 1372.3 717.6 1373.4 726.9 1374.5 732.5 1375.7 743.1 1376.8 749.5 1377.9 756.1 1379.0 762.0 1380.1 766.5 1381.2 778.8 1382.3 787.5 1383.4 790.1 1384.5 791.0 1385.6 791.7 1386.7 792.5 1387.8 796.4 1389.0 795.7 1390.1 796.9 1391.2 799.8 1392.3 801.7 1393.4 808.3 1394.5 816.2 1395.6 824.7 1396.7 840.0 1397.8 862.0 1398.9 876.8 1400.0 890.5 1401.1 895.5 1402.2 899.3 1403.4 899.6 1404.5 890.5 1405.6 880.5 1406.7 876.1 1407.8 875.8 1408.9 876.1 1410.0 824.7 1411.1 767.5 1412.2 712.4 1413.3 655.2 1414.4 556.2 1415.5 441.2 1416.7 363.5 1417.8 311.1 1418.9 263.3 1420.0 220.5 1421.1 195.2 1422.2 165.1 1423.3 144.0 1424.4 128.0 1425.5 113.6 1426.6 105.8 1427.7 97.6 1428.8 95.7 1429.9 89.6 1431.1 90.9 1432.2 91.3 1433.3 85.7 1434.4 90.1 1435.5 86.9 1436.6 84.5 1437.7 90.2 1438.8 83.8 1439.9 84.5 1441.0 77.7 1442.1 79.6 1443.2 76.5 1444.4 73.9 1445.5 72.5 1446.6 75.1 1447.7 72.2 1448.8 74.8 1449.9 74.2 1451.0 72.3 1452.1 72.2 1453.2 75.6 1454.3 72.7 1455.4 73.9 1456.5 70.1 1457.6 73.6 1458.8 70.9 1459.9 68.9 1461.0 71.6 1462.1 71.4 1463.2 74.1 1464.3 73.7 1465.4 72.3 1466.5 74.2 1467.6 74.4 1468.7 69.9 1469.8 71.7 1470.9 77.2 1472.1 76.3 1473.2 72.7 1474.3 73.5 1475.4 75.5 1476.5 70.2 1477.6 73.5 1478.7 71.2 1479.8 73.7 1480.9 76.7 1482.0 81.0 1483.1 76.7 1484.2 79.0 1485.3 75.0 1486.5 77.1 1487.6 78.7 1488.7 73.6 1489.8 76.5 1490.9 79.0 1492.0 77.3 1493.1 74.6 1494.2 77.2 1495.3 75.0 1496.4 77.2 1497.5 74.4 1498.6 76.6 1499.8 79.1 1500.9 81.4 1502.0 83.1 1503.1 76.3 1504.2 80.4 1505.3 78.6 1506.4 79.3 1507.5 76.2 1508.6 75.6 1509.7 81.8 1510.8 78.8 1511.9 80.7 1513.0 81.6 1514.2 78.5 1515.3 75.6 1516.4 76.9 1517.5 74.8 1518.6 78.6 1519.7 79.4 1520.8 81.1 1521.9 81.5 1523.0 81.3 1524.1 78.6 1525.2 77.4 1526.3 76.7 1527.5 80.9 1528.6 80.1 1529.7 85.0 1530.8 87.3 1531.9 85.2 1533.0 91.0 1534.1 86.7 1535.2 90.3 1536.3 95.5 1537.4 88.1 1538.5 92.6 1539.6 96.3 1540.7 91.0 1541.9 93.6 1543.0 94.9 1544.1 97.6 1545.2 99.0 1546.3 97.6 1547.4 100.0 1548.5 98.9 1549.6 101.1 1550.7 100.8 1551.8 105.7 1552.9 108.0 1554.0 105.0 1555.2 106.0 1556.3 108.6 1557.4 109.6 1558.5 110.1 1559.6 111.4 1560.7 107.2" marker-start="url(#mg)" marker-mid="url(#mg)" marker-end="url(#mg)"/>
<path d="M897.0 690.4 898.1 689.2 899.2 686.3 900.3 687.0 901.4 683.5 902.5 675.2 903.6 671.6 904.8 667.2 905.9 663.2 907.0 657.5 908.1 647.6 909.2 640.4 910.3 633.3 911.4 626.6 912.5 622.7 913.6 615.8 914.7 603.1 915.8 601.5 916.9 592.3 918.1 593.1 919.2 589.6 920.3 590.2 921.4 597.8 922.5 594.5 923.6 600.1 924.7 600.9 925.8 606.8 926.9 611.1 928.0 621.8 929.1 630.3 930.2 634.9 931.3 645.7 932.5 650.4 933.6 657.9 934.7 669.3 935.8 686.3 936.9 696.2 938.0 706.8 939.1 708.0 940.2 712.8 941.3 715.9 942.4 718.6 943.5 707.5 944.6 694.9 945.8 690.2 946.9 680.2 948.0 676.5 949.1 667.5 950.2 660.8 951.3 653.4 952.4 648.4 953.5 637.8 954.6 632.1 955.7 624.2 956.8 615.6 957.9 604.8 959.0 602.2 960.2 592.7 961.3 583.1 962.4 577.2 963.5 571.5 964.6 569.4 965.7 567.9 966.8 561.7 967.9 559.9 969.0 564.3 970.1 565.4 971.2 569.8 972.3 574.9 973.5 586.5 974.6 609.2 975.7 621.0 976.8 631.9 977.9 643.0 979.0 657.1 980.1 674.6 981.2 688.5 982.3 706.0 983.4 715.4 984.5 727.2 985.6 733.3 986.7 728.7 987.9 728.6 989.0 721.7 990.1 715.1 991.2 704.2 992.3 689.4 993.4 682.1 994.5 670.2 995.6 652.9 996.7 636.0 997.8 627.7 998.9 615.9 1000.0 606.9 1001.2 595.7 1002.3 578.0 1003.4 573.0 1004.5 564.6 1005.6 554.8 1006.7 550.2 1007.8 544.3 1008.9 535.2 1010.0 529.6 1011.1 521.1 1012.2 516.4 1013.3 513.4 1014.4 511.9 1015.6 501.1 1016.7 499.3 1017.8 493.3 1018.9 489.2 1020.0 487.1 1021.1 492.3 1022.2 498.8 1023.3 498.8 1024.4 498.5 1025.5 502.5 1026.6 506.7 1027.7 511.4 1028.9 515.4 1030.0 524.1 1031.1 530.5 1032.2 549.5 1033.3 567.1 1034.4 591.6 1035.5 604.4 1036.6 620.8 1037.7 636.7 1038.8 648.1 1039.9 653.8 1041.0 661.0 1042.1 671.1 1043.3 679.4 1044.4 680.7 1045.5 687.3 1046.6 693.5 1047.7 697.3 1048.8 701.4 1049.9 711.4 1051.0 708.4 1052.1 704.6 1053.2 702.7 1054.3 697.6 1055.4 686.1 1056.6 681.8 1057.7 676.9 1058.8 665.8 1059.9 663.2 1061.0 666.5 1062.1 673.5 1063.2 680.6 1064.3 684.7 1065.4 693.2 1066.5 706.1 1067.6 718.9 1068.7 724.6 1069.8 734.3 1071.0 750.6 1072.1 767.3 1073.2 784.5 1074.3 795.3 1075.4 804.4 1076.5 812.8 1077.6 814.6 1078.7 821.5 1079.8 818.5 1080.9 821.3 1082.0 814.6 1083.1 811.8 1084.3 808.3 1085.4 800.4 1086.5 802.7 1087.6 795.0 1088.7 792.2 1089.8 785.3 1090.9 786.1 1092.0 785.1 1093.1 780.2 1094.2 777.6 1095.3 777.0 1096.4 772.5 1097.5 768.4 1098.7 766.5 1099.8 757.3 1100.9 750.3 1102.0 743.5 1103.1 739.9 1104.2 735.8 1105.3 727.5 1106.4 724.9 1107.5 718.9 1108.6 710.1 1109.7 712.5 1110.8 703.6 1112.0 697.3 1113.1 691.7 1114.2 692.4 1115.3 692.7 1116.4 692.7 1117.5 699.2 1118.6 707.2 1119.7 711.0 1120.8 715.3 1121.9 721.0 1123.0 727.0 1124.1 736.9 1125.2 750.1 1126.4 760.2 1127.5 771.7 1128.6 782.7 1129.7 789.3 1130.8 794.5 1131.9 797.7 1133.0 804.2 1134.1 804.6 1135.2 809.4 1136.3 800.8 1137.4 796.2 1138.5 785.7 1139.7 777.3 1140.8 770.0 1141.9 748.4 1143.0 738.5 1144.1 737.2 1145.2 734.9 1146.3 725.4 1147.4 718.2 1148.5 706.2 1149.6 705.6 1150.7 702.8 1151.8 704.7 1152.9 707.7 1154.1 711.5 1155.2 712.3 1156.3 714.1 1157.4 721.8 1158.5 727.6 1159.6 733.3 1160.7 740.3 1161.8 744.0 1162.9 751.8 1164.0 757.5 1165.1 759.0 1166.2 760.8 1167.4 767.1 1168.5 766.5 1169.6 771.7 1170.7 774.7 1171.8 773.6 1172.9 769.0 1174.0 763.3 1175.1 761.2 1176.2 754.4 1177.3 748.7 1178.4 737.9 1179.5 726.6 1180.6 716.8 1181.8 705.9 1182.9 698.9 1184.0 696.6 1185.1 691.2 1186.2 689.3 1187.3 688.6 1188.4 684.0 1189.5 689.1 1190.6 688.6 1191.7 689.9 1192.8 687.2 1193.9 686.1 1195.1 688.1 1196.2 687.4 1197.3 689.5 1198.4 691.2 1199.5 688.2 1200.6 685.2 1201.7 688.0 1202.8 687.4 1203.9 687.6 1205.0 691.9 1206.1 692.2 1207.2 683.6 1208.3 688.0 1209.5 682.7 1210.6 667.0 1211.7 644.4 1212.8 619.0 1213.9 591.7 1215.0 569.1 1216.1 547.9 1217.2 538.3 1218.3 530.2 1219.4 516.8 1220.5 503.6 1221.6 494.8 1222.8 481.9 1223.9 476.2 1225.0 473.0 1226.1 470.3 1227.2 464.7 1228.3 461.4 1229.4 463.1 1230.5 464.4 1231.6 469.7 1232.7 472.9 1233.8 471.5 1234.9 479.2 1236.0 476.6 1237.2 478.8 1238.3 480.2 1239.4 476.5 1240.5 484.3 1241.6 485.0 1242.7 481.0 1243.8 484.3 1244.9 484.5 1246.0 484.9 1247.1 487.7 1248.2 485.7 1249.3 487.8 1250.5 486.8 1251.6 492.6 1252.7 491.5 1253.8 494.8 1254.9 497.1 1256.0 500.4 1257.1 499.9 1258.2 514.7 1259.3 521.6 1260.4 530.3 1261.5 540.4 1262.6 548.0 1263.7 552.5 1264.9 555.4 1266.0 561.9 1267.1 565.0 1268.2 580.1 1269.3 589.0 1270.4 597.6 1271.5 605.6 1272.6 616.2 1273.7 628.6 1274.8 637.6 1275.9 654.9 1277.0 660.5 1278.2 672.3 1279.3 684.7 1280.4 695.9 1281.5 710.4 1282.6 714.9 1283.7 724.9 1284.8 731.5 1285.9 742.3 1287.0 748.5 1288.1 754.0 1289.2 759.5 1290.3 761.6 1291.4 766.2 1292.6 767.6 1293.7 757.4 1294.8 743.4 1295.9 734.0 1297.0 728.2 1298.1 719.2 1299.2 717.9 1300.3 718.1 1301.4 715.8 1302.5 713.1 1303.6 714.2 1304.7 720.2 1305.9 724.5 1307.0 728.9 1308.1 733.1 1309.2 747.3 1310.3 758.3 1311.4 781.1 1312.5 796.3 1313.6 807.4 1314.7 814.0 1315.8 818.9 1316.9 824.6 1318.0 829.6 1319.1 827.6 1320.3 822.1 1321.4 815.6 1322.5 810.7 1323.6 790.9 1324.7 779.8 1325.8 762.8 1326.9 751.0 1328.0 743.9 1329.1 732.5 1330.2 722.5 1331.3 719.4 1332.4 709.7 1333.6 702.3 1334.7 694.6 1335.8 688.3 1336.9 680.6 1338.0 675.5 1339.1 674.7 1340.2 673.8 1341.3 677.4 1342.4 683.6 1343.5 688.5 1344.6 692.9 1345.7 697.0 1346.8 699.1 1348.0 707.6 1349.1 712.3 1350.2 715.1 1351.3 720.7 1352.4 728.7 1353.5 731.5 1354.6 740.6 1355.7 747.1 1356.8 753.6 1357.9 759.6 1359.0 762.9 1360.1 763.5 1361.3 765.0 1362.4 766.7 1363.5 763.8 1364.6 766.2 1365.7 763.5 1366.8 763.6 1367.9 761.2 1369.0 763.6 1370.1 763.1 1371.2 759.0 1372.3 758.4 1373.4 757.5 1374.5 757.5 1375.7 752.1 1376.8 752.0 1377.9 746.5 1379.0 745.1 1380.1 740.6 1381.2 741.2 1382.3 744.3 1383.4 744.5 1384.5 747.4 1385.6 750.7 1386.7 755.1 1387.8 759.7 1389.0 765.2 1390.1 771.6 1391.2 771.6 1392.3 773.6 1393.4 782.5 1394.5 788.6 1395.6 796.0 1396.7 813.9 1397.8 829.1 1398.9 839.3 1400.0 848.9 1401.1 846.1 1402.2 863.4 1403.4 867.6 1404.5 863.8 1405.6 849.4 1406.7 829.0 1407.8 812.1 1408.9 781.8 1410.0 740.9 1411.1 692.3 1412.2 604.0 1413.3 513.1 1414.4 429.1 1415.5 372.4 1416.7 321.1 1417.8 266.0 1418.9 218.3 1420.0 184.6 1421.1 162.5 1422.2 145.6 1423.3 129.7 1424.4 132.2 1425.5 135.6 1426.6 135.6 1427.7 136.1 1428.8 136.0 1429.9 139.5 1431.1 145.1 1432.2 149.0 1433.3 153.3 1434.4 155.8 1435.5 159.5 1436.6 163.6 1437.7 164.4 1438.8 164.9 1439.9 170.1 1441.0 166.5 1442.1 164.5 1443.2 156.8 1444.4 153.8 1445.5 152.7 1446.6 152.2 1447.7 146.7 1448.8 146.7 1449.9 145.6 1451.0 141.4 1452.1 139.6 1453.2 135.4 1454.3 139.4 1455.4 137.5 1456.5 136.0 1457.6 135.6 1458.8 133.7 1459.9 137.8 1461.0 132.3 1462.1 132.8 1463.2 128.0 1464.3 127.8 1465.4 125.5 1466.5 125.1 1467.6 122.9 1468.7 121.0 1469.8 119.5 1470.9 119.5 1472.1 119.7 1473.2 117.7 1474.3 119.3 1475.4 116.5 1476.5 117.5 1477.6 116.3 1478.7 113.5 1479.8 112.2 1480.9 118.8 1482.0 116.6 1483.1 121.1 1484.2 122.8 1485.3 122.7 1486.5 129.1 1487.6 129.3 1488.7 135.1 1489.8 134.8 1490.9 140.7 1492.0 140.6 1493.1 139.5 1494.2 145.6 1495.3 139.7 1496.4 150.1 1497.5 148.5 1498.6 149.6 1499.8 148.4 1500.9 148.4 1502.0 149.2 1503.1 147.1 1504.2 147.9 1505.3 147.9 1506.4 144.1 1507.5 146.7 1508.6 149.2 1509.7 146.2 1510.8 144.0 1511.9 144.0 1513.0 144.0 1514.2 142.2 1515.3 142.4 1516.4 136.8 1517.5 134.8 1518.6 138.9 1519.7 140.1 1520.8 145.6 1521.9 143.0 1523.0 145.8 1524.1 145.0 1525.2 146.4 1526.3 149.8 1527.5 139.3 1528.6 143.2 1529.7 140.5 1530.8 137.3 1531.9 133.9 1533.0 130.5 1534.1 127.4 1535.2 125.8 1536.3 124.6 1537.4 132.1 1538.5 130.9 1539.6 127.6 1540.7 127.1 1541.9 129.6 1543.0 124.0 1544.1 122.9 1545.2 122.7 1546.3 117.6 1547.4 122.1 1548.5 124.0 1549.6 118.1 1550.7 114.3 1551.8 113.4 1552.9 109.1 1554.0 111.3 1555.2 111.9 1556.3 105.3 1557.4 106.0 1558.5 108.6 1559.6 107.2 1560.7 103.8" marker-start="url(#mv)" marker-mid="url(#mv)" marker-end="url(#mv)"/>
</g>
<g fill="none" stroke="#000" stroke-width="4.6" stroke-linecap="butt">
<rect x="197.6" y="4.2" width="665" height="958.5"/>
<rect x="895.4" y="4.2" width="664.3" height="958.5"/>
<path stroke-width="4.4" d="M178.6 57.4H197.6 M876.2 57.4H895.4 M1540.8 57.4H1559.7 M178.6 163.9H197.6 M876.2 163.9H895.4 M1540.8 163.9H1559.7 M178.6 270.3H197.6 M876.2 270.3H895.4 M1540.8 270.3H1559.7 M178.6 376.8H197.6 M876.2 376.8H895.4 M1540.8 376.8H1559.7 M178.6 483.3H197.6 M876.2 483.3H895.4 M1540.8 483.3H1559.7 M178.6 589.8H197.6 M876.2 589.8H895.4 M1540.8 589.8H1559.7 M178.6 696.2H197.6 M876.2 696.2H895.4 M1540.8 696.2H1559.7 M178.6 802.7H197.6 M876.2 802.7H895.4 M1540.8 802.7H1559.7 M178.6 909.2H197.6 M876.2 909.2H895.4 M1540.8 909.2H1559.7 M308.1 962.7V981.2 M1006.1 962.7V981.2 M530.0 962.7V981.2 M1227.5 962.7V981.2 M751.9 962.7V981.2 M1449.0 962.7V981.2"/>
</g>
<g font-size="39.8">
<text transform="translate(166.3 69.5) scale(0.965 1)" text-anchor="end">0.40</text>
<text transform="translate(1580.2 69.5) scale(0.965 1)">0.40</text>
<text transform="translate(166.3 176.0) scale(0.965 1)" text-anchor="end">0.35</text>
<text transform="translate(1580.2 176.0) scale(0.965 1)">0.35</text>
<text transform="translate(166.3 282.4) scale(0.965 1)" text-anchor="end">0.30</text>
<text transform="translate(1580.2 282.4) scale(0.965 1)">0.30</text>
<text transform="translate(166.3 388.9) scale(0.965 1)" text-anchor="end">0.25</text>
<text transform="translate(1580.2 388.9) scale(0.965 1)">0.25</text>
<text transform="translate(166.3 495.4) scale(0.965 1)" text-anchor="end">0.20</text>
<text transform="translate(1580.2 495.4) scale(0.965 1)">0.20</text>
<text transform="translate(166.3 601.9) scale(0.965 1)" text-anchor="end">0.15</text>
<text transform="translate(1580.2 601.9) scale(0.965 1)">0.15</text>
<text transform="translate(166.3 708.3) scale(0.965 1)" text-anchor="end">0.10</text>
<text transform="translate(1580.2 708.3) scale(0.965 1)">0.10</text>
<text transform="translate(166.3 814.8) scale(0.965 1)" text-anchor="end">0.05</text>
<text transform="translate(1580.2 814.8) scale(0.965 1)">0.05</text>
<text transform="translate(166.3 921.3) scale(0.965 1)" text-anchor="end">0.00</text>
<text transform="translate(1580.2 921.3) scale(0.965 1)">0.00</text>
<text x="308.1" y="1025.3" text-anchor="middle">30</text>
<text x="1006.1" y="1025.3" text-anchor="middle">30</text>
<text x="530.0" y="1025.3" text-anchor="middle">40</text>
<text x="1227.5" y="1025.3" text-anchor="middle">40</text>
<text x="751.9" y="1025.3" text-anchor="middle">50</text>
<text x="1449.0" y="1025.3" text-anchor="middle">50</text>
</g>
<text x="563.4" y="1103.6" font-size="60">Distance along track (<tspan font-family="Liberation Serif">&#956;</tspan>m)</text>
<text transform="translate(43.7 759.6) rotate(-90)" font-size="60.3">Phase change (Rad)</text>
<g font-size="39.4">
<circle cx="310.6" cy="42.2" r="4.6" fill="url(#gk)"/>
<text x="362.5" y="55.3">2</text>
<circle cx="310.6" cy="89.5" r="4.6" fill="url(#gr)"/>
<text x="362.5" y="102.6">2.7</text>
<circle cx="310.6" cy="136.8" r="4.6" fill="url(#gb)"/>
<text x="362.5" y="149.9">3.3</text>
<circle cx="310.6" cy="184.1" r="4.6" fill="url(#gg)"/>
<text x="362.5" y="197.2">5.3</text>
<circle cx="310.6" cy="231.4" r="4.6" fill="url(#gv)"/>
<text x="362.5" y="244.5">6.7</text>
<circle cx="310.6" cy="278.7" r="4.6" fill="url(#go)"/>
<text x="362.5" y="291.8">8</text>
<circle cx="310.6" cy="326.0" r="4.6" fill="url(#gc)"/>
<text x="362.5" y="339.1">9.3</text>
<circle cx="310.6" cy="373.3" r="4.6" fill="url(#gd)"/>
<text x="362.5" y="386.4">11</text>
</g>
<g font-size="44.1">
<circle cx="1220" cy="106.3" r="4.6" fill="url(#gk)"/>
<text x="1278.6" y="120.8">12</text>
<circle cx="1220" cy="157.6" r="4.6" fill="url(#gr)"/>
<text x="1278.6" y="172.1">17</text>
<circle cx="1220" cy="208.8" r="4.6" fill="url(#gb)"/>
<text x="1278.6" y="223.3">23</text>
<circle cx="1220" cy="260.1" r="4.6" fill="url(#gg)"/>
<text x="1278.6" y="274.6">30</text>
<circle cx="1220" cy="311.3" r="4.6" fill="url(#gv)"/>
<text x="1278.6" y="325.8">33</text>
</g>
</svg></body></html>
